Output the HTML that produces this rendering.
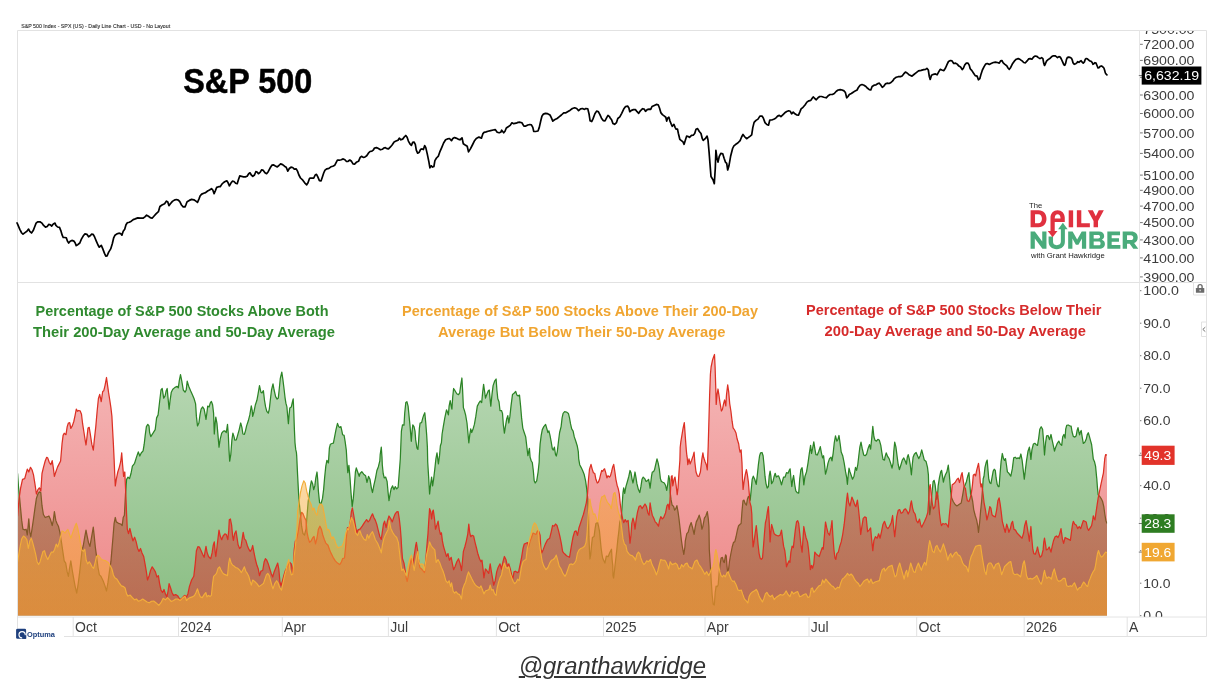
<!DOCTYPE html>
<html><head><meta charset="utf-8"><title>S&amp;P 500 breadth</title>
<style>html,body{margin:0;padding:0;background:#fff;}body{width:1228px;height:690px;overflow:hidden;position:relative;font-family:"Liberation Sans",sans-serif;}svg{display:block;will-change:transform;}text{font-family:"Liberation Sans",sans-serif;}</style>
</head><body>
<svg width="1228" height="690" viewBox="0 0 1228 690">
<defs>
<linearGradient id="gg" gradientUnits="userSpaceOnUse" x1="0" y1="283" x2="0" y2="616"><stop offset="0" stop-color="#2e8b22" stop-opacity="0.27"/><stop offset="1" stop-color="#2e8b22" stop-opacity="0.56"/></linearGradient>
<linearGradient id="gr" gradientUnits="userSpaceOnUse" x1="0" y1="283" x2="0" y2="616"><stop offset="0" stop-color="#e02a2a" stop-opacity="0.27"/><stop offset="1" stop-color="#e02a2a" stop-opacity="0.56"/></linearGradient>
<linearGradient id="go" gradientUnits="userSpaceOnUse" x1="0" y1="283" x2="0" y2="616"><stop offset="0" stop-color="#f5a72e" stop-opacity="0.27"/><stop offset="1" stop-color="#f5a72e" stop-opacity="0.56"/></linearGradient>
<clipPath id="cpTop"><rect x="1140" y="31" width="67" height="251.5"/></clipPath>
<clipPath id="cpLow"><rect x="1140" y="283" width="67" height="333.8"/></clipPath>
<clipPath id="cpPlot"><rect x="17" y="283" width="1090.2" height="332.7"/></clipPath>
</defs>
<rect width="1228" height="690" fill="#fff"/>
<text x="21.2" y="27.8" font-size="5.6" fill="#2e2e2e" stroke="#2e2e2e" stroke-width="0.12" textLength="149" lengthAdjust="spacingAndGlyphs">S&amp;P 500 Index - SPX (US) - Daily Line Chart - USD - No Layout</text>
<g clip-path="url(#cpPlot)">
<path d="M17.0,473.5 L17.6,473.5 L18.5,486.7 L19.5,496.9 L20.6,508.6 L21.7,520.4 L22.9,529.2 L24.7,529.9 L26.1,529.2 L27.3,535.0 L28.8,518.9 L29.8,532.1 L30.8,536.5 L32.0,529.2 L33.5,518.9 L34.9,508.6 L36.4,498.4 L37.9,494.0 L39.3,491.8 L40.8,492.5 L42.0,505.7 L43.4,514.5 L45.2,517.5 L47.4,516.7 L48.9,516.0 L50.3,518.9 L52.2,525.5 L53.3,520.4 L54.4,511.6 L55.8,520.4 L56.9,523.3 L58.4,526.2 L59.9,532.3 L61.3,541.1 L62.8,551.4 L64.2,560.9 L65.7,563.1 L67.2,571.9 L68.4,576.3 L69.4,569.0 L70.8,560.9 L72.3,570.5 L73.8,579.2 L75.2,586.6 L76.7,593.2 L78.2,583.6 L79.7,571.9 L81.1,558.7 L82.1,549.9 L83.3,545.5 L84.8,536.7 L86.0,530.1 L87.0,535.3 L88.5,542.6 L89.9,546.3 L91.4,538.2 L93.3,527.2 L94.3,536.7 L95.3,547.0 L96.5,555.8 L98.0,567.5 L99.4,574.9 L100.9,576.3 L103.1,580.7 L105.0,585.9 L106.5,591.0 L108.0,582.2 L109.4,571.9 L110.9,561.7 L111.9,549.9 L112.9,538.2 L114.1,523.3 L115.3,517.5 L116.3,521.9 L118.5,523.3 L120.7,524.0 L122.2,525.5 L123.2,517.5 L124.4,515.2 L125.5,494.0 L126.6,479.3 L128.0,477.1 L129.5,478.6 L131.0,473.5 L132.4,466.1 L134.6,463.3 L136.4,457.4 L138.3,451.9 L139.8,456.0 L141.2,453.0 L143.1,450.8 L144.2,444.2 L145.2,435.4 L146.4,426.6 L147.8,424.4 L149.0,425.9 L149.6,432.5 L150.8,436.6 L153.0,433.2 L155.2,429.6 L156.6,417.9 L158.1,414.9 L159.6,401.7 L161.0,390.0 L162.2,388.5 L163.7,398.1 L165.1,395.9 L166.2,390.7 L167.2,388.5 L168.1,398.8 L169.1,409.1 L170.1,400.3 L171.3,392.2 L172.8,389.3 L175.0,387.4 L177.2,386.3 L178.3,387.8 L179.3,380.5 L180.5,374.6 L181.8,381.2 L183.3,390.0 L185.0,392.2 L186.2,390.0 L187.2,381.2 L188.7,386.3 L190.6,390.7 L192.3,394.4 L194.1,398.8 L195.6,403.9 L196.4,416.4 L197.5,425.9 L198.9,423.0 L200.0,414.9 L201.1,409.1 L202.6,406.9 L204.1,409.1 L205.2,414.9 L206.0,419.3 L207.0,412.0 L207.7,406.1 L209.2,406.9 L210.2,403.2 L211.4,401.4 L212.6,404.7 L213.6,413.4 L214.3,434.0 L215.1,423.7 L215.8,417.1 L217.0,423.7 L218.0,435.4 L219.0,447.2 L220.2,439.1 L221.7,433.2 L223.4,431.1 L224.9,430.8 L226.3,432.5 L227.5,424.4 L228.3,434.0 L229.0,450.1 L229.7,461.1 L230.8,454.5 L231.9,439.9 L232.9,433.2 L234.1,436.9 L234.8,440.1 L236.3,439.9 L237.8,434.7 L239.2,429.6 L240.7,423.0 L241.9,427.4 L242.9,434.0 L244.4,434.3 L245.4,431.1 L246.6,425.9 L248.3,420.8 L249.8,414.9 L251.3,405.8 L252.2,410.5 L252.7,416.4 L253.9,412.0 L255.4,404.7 L256.9,400.3 L258.0,394.4 L259.5,385.6 L260.9,392.2 L262.0,392.9 L263.4,390.7 L264.5,400.3 L265.6,406.9 L266.8,411.3 L268.3,413.2 L269.3,409.1 L270.3,400.3 L271.5,390.0 L273.0,383.8 L274.1,390.0 L275.6,396.6 L277.1,399.1 L278.3,398.1 L279.3,388.5 L280.3,378.3 L281.8,372.1 L282.9,379.7 L284.0,388.5 L285.0,397.3 L285.9,403.2 L286.9,406.9 L287.6,414.9 L288.4,423.7 L289.1,414.9 L289.8,407.9 L291.3,406.9 L292.3,402.5 L293.2,398.8 L293.8,412.0 L294.4,429.6 L295.0,442.8 L295.7,449.4 L296.4,452.3 L296.7,455.9 L297.6,474.9 L298.6,494.0 L299.4,504.2 L300.5,514.5 L301.6,526.2 L303.0,533.6 L304.5,535.0 L306.0,529.2 L307.0,516.0 L308.2,501.3 L309.3,494.0 L310.4,485.9 L311.4,480.8 L312.6,483.7 L313.7,489.6 L314.8,485.9 L315.8,477.9 L317.0,472.0 L317.7,479.3 L318.4,491.1 L319.6,502.8 L321.1,503.5 L322.5,498.4 L323.6,489.6 L324.6,477.9 L325.8,466.1 L326.9,460.3 L328.4,462.9 L329.4,447.9 L330.4,444.2 L331.9,443.5 L333.4,443.1 L334.6,436.9 L336.0,429.6 L337.5,423.4 L338.7,426.6 L339.7,427.4 L340.9,426.6 L341.9,431.1 L342.6,434.7 L344.1,435.4 L345.1,441.3 L346.3,450.1 L347.0,461.7 L347.8,472.7 L348.9,465.4 L350.0,477.9 L351.0,492.5 L352.2,506.4 L353.3,498.4 L354.4,485.2 L355.4,472.0 L356.3,467.9 L357.7,472.0 L359.2,476.4 L360.0,473.5 L361.8,471.7 L363.7,474.2 L365.6,475.7 L367.0,482.3 L368.5,476.4 L370.0,479.3 L371.4,488.1 L372.5,492.5 L373.9,485.2 L375.4,478.6 L376.9,470.5 L378.3,466.9 L379.8,461.0 L380.2,454.5 L381.3,447.2 L382.0,457.4 L382.3,464.7 L383.2,473.5 L384.2,477.9 L385.7,477.1 L387.1,481.5 L388.1,492.5 L389.0,500.6 L390.1,494.0 L391.1,488.9 L392.6,485.9 L394.0,489.6 L395.2,486.7 L396.7,488.9 L398.1,487.4 L399.3,472.0 L400.3,458.8 L401.4,431.1 L402.5,424.9 L404.0,425.2 L404.7,413.4 L405.8,402.5 L406.9,401.7 L408.1,406.1 L409.1,416.4 L410.1,426.6 L411.3,441.3 L412.1,431.1 L412.8,424.9 L414.0,426.6 L415.0,431.1 L415.7,439.9 L416.9,447.9 L417.9,449.4 L418.6,441.3 L419.4,428.1 L420.1,423.0 L421.6,422.6 L422.8,417.9 L423.8,414.9 L424.8,412.7 L425.7,422.2 L426.7,435.4 L427.4,447.2 L427.7,461.7 L428.6,476.4 L429.6,494.0 L430.7,483.7 L431.6,477.1 L432.6,485.9 L433.6,479.3 L434.8,469.1 L435.9,458.8 L437.0,452.9 L438.4,463.9 L439.5,455.9 L440.4,445.7 L441.4,442.8 L442.1,434.0 L443.3,426.6 L444.8,417.9 L446.5,409.8 L447.7,412.7 L448.4,414.9 L449.1,406.1 L450.2,400.6 L451.2,406.1 L451.9,409.1 L452.7,397.3 L453.6,388.5 L455.0,390.7 L456.8,393.7 L458.5,394.7 L459.7,392.9 L460.9,384.1 L461.9,378.0 L462.6,390.0 L463.4,407.6 L464.4,410.5 L465.6,414.9 L467.0,423.0 L467.9,432.5 L468.8,442.8 L469.7,435.4 L470.7,428.9 L471.7,432.5 L472.9,429.6 L474.4,424.4 L475.8,416.4 L477.3,406.1 L478.8,403.2 L480.2,401.0 L481.7,402.5 L482.6,392.9 L483.6,384.4 L484.6,391.5 L485.5,398.1 L486.8,394.4 L488.3,390.7 L489.3,390.0 L490.2,400.3 L490.8,406.1 L492.0,394.4 L493.1,385.6 L494.6,381.2 L496.1,379.0 L496.9,390.0 L497.8,398.8 L499.0,401.7 L500.0,410.5 L501.5,410.5 L502.5,413.4 L503.4,425.2 L504.4,433.2 L505.4,426.6 L506.6,419.3 L507.8,415.6 L508.8,423.0 L509.9,416.4 L511.0,406.1 L512.5,394.4 L514.0,393.2 L515.7,391.5 L516.9,395.1 L518.1,395.9 L519.5,395.1 L520.6,406.1 L521.6,417.9 L522.8,428.1 L524.2,432.5 L525.7,436.9 L526.9,447.2 L527.9,455.7 L529.4,448.4 L530.1,457.3 L531.3,461.0 L532.3,462.5 L533.3,470.5 L534.2,480.8 L535.2,483.0 L536.7,480.8 L538.1,472.0 L539.2,461.7 L539.3,456.0 L540.1,444.2 L541.2,435.4 L542.3,429.6 L543.8,426.6 L545.6,424.4 L546.7,428.1 L547.9,432.5 L548.9,430.8 L550.0,435.4 L551.1,441.3 L552.3,448.6 L553.3,450.1 L554.4,447.2 L555.5,454.5 L556.3,456.0 L557.3,451.6 L558.5,441.3 L559.6,432.5 L561.1,426.6 L562.1,417.9 L563.1,413.4 L564.6,411.7 L566.5,412.0 L568.4,413.4 L569.5,417.9 L570.5,423.7 L571.7,428.9 L573.1,431.1 L574.3,436.9 L575.8,441.3 L577.2,445.7 L578.3,451.6 L578.7,458.8 L579.7,464.7 L581.2,467.6 L582.6,470.5 L584.1,474.2 L585.6,480.8 L586.6,488.1 L587.2,493.5 L588.0,501.6 L588.5,513.2 L588.7,524.8 L588.9,536.4 L589.4,548.0 L589.9,559.0 L590.7,555.0 L591.5,545.7 L592.4,537.6 L594.1,536.4 L595.0,529.4 L595.9,523.6 L597.6,522.5 L598.5,526.0 L599.4,530.6 L600.3,539.9 L601.1,548.0 L601.9,553.8 L602.8,558.5 L604.9,563.1 L606.3,556.1 L608.1,556.7 L609.8,552.6 L611.5,549.2 L612.1,559.6 L612.8,565.4 L613.0,575.6 L613.6,578.1 L614.5,570.5 L615.6,560.2 L616.8,549.9 L617.8,539.7 L618.9,530.9 L619.8,521.9 L620.8,518.9 L621.5,514.5 L622.2,504.2 L623.0,492.5 L623.7,487.8 L624.7,493.3 L625.9,486.7 L627.4,481.5 L628.8,476.4 L630.0,470.5 L631.0,472.7 L632.1,479.3 L633.0,483.0 L634.0,477.9 L635.0,472.0 L635.9,477.1 L636.9,483.7 L638.4,489.6 L639.8,492.5 L640.9,486.7 L642.0,479.3 L643.2,477.1 L644.7,478.6 L646.1,481.5 L647.6,480.5 L648.6,479.3 L649.4,483.7 L650.1,488.1 L650.8,482.3 L651.6,475.7 L652.3,472.0 L653.5,471.7 L654.5,469.8 L655.5,465.4 L657.0,458.8 L658.2,463.2 L659.3,469.1 L660.4,478.6 L661.4,481.5 L662.9,482.3 L664.3,483.0 L665.5,485.2 L666.7,490.3 L667.7,484.5 L668.7,475.7 L669.6,479.3 L670.2,492.5 L671.1,499.9 L672.1,505.0 L673.6,506.4 L674.6,510.1 L675.8,508.6 L676.9,505.7 L678.0,511.6 L679.0,518.9 L680.2,529.2 L681.3,539.4 L682.4,547.0 L683.8,554.3 L684.9,547.0 L685.3,540.9 L686.8,533.6 L688.2,532.1 L689.7,526.2 L691.2,522.6 L692.6,527.7 L694.1,534.3 L695.1,527.7 L696.3,521.9 L697.8,518.9 L699.2,515.2 L700.7,520.4 L701.9,529.2 L702.9,526.2 L704.4,518.2 L705.8,516.0 L707.3,511.6 L708.3,518.9 L708.9,526.2 L709.0,530.0 L709.3,549.6 L710.4,566.5 L711.3,582.1 L712.2,595.2 L713.2,604.3 L714.3,605.0 L715.2,592.6 L716.1,586.1 L717.2,586.7 L718.2,584.8 L719.1,573.0 L720.0,565.2 L721.1,558.0 L722.4,557.4 L723.4,561.3 L724.3,562.6 L725.6,554.8 L726.3,556.1 L726.9,565.2 L727.6,571.7 L728.6,569.1 L729.5,561.3 L730.9,553.5 L732.2,547.0 L733.5,542.4 L734.8,541.7 L736.1,536.5 L737.4,530.0 L738.6,525.7 L740.1,524.2 L741.1,523.5 L742.0,511.1 L743.0,500.8 L744.0,500.1 L745.2,503.7 L746.4,505.2 L747.4,499.3 L748.4,496.4 L749.3,497.9 L750.2,500.1 L751.1,490.9 L752.2,479.2 L753.3,476.2 L754.7,479.2 L756.2,484.3 L757.2,476.2 L758.4,464.5 L759.6,455.7 L760.6,452.8 L762.0,452.5 L763.1,455.7 L764.0,464.5 L765.0,476.2 L766.0,483.6 L767.2,488.0 L768.4,486.5 L769.2,476.2 L770.1,471.1 L770.9,476.2 L771.6,483.6 L773.0,481.4 L774.2,476.2 L775.2,473.3 L776.3,477.0 L777.5,476.2 L778.6,475.9 L780.1,479.9 L781.5,484.8 L782.6,480.6 L783.6,477.0 L785.1,477.0 L786.5,472.6 L788.0,473.3 L789.2,470.4 L790.1,468.9 L790.9,477.7 L791.8,486.5 L792.8,479.2 L793.6,475.5 L794.8,485.0 L795.8,490.9 L797.2,492.7 L798.7,493.1 L799.7,479.2 L800.9,469.6 L802.1,467.7 L803.1,476.2 L803.8,484.8 L805.0,476.2 L806.5,471.9 L808.0,463.1 L809.4,452.8 L810.6,445.4 L811.5,453.5 L812.6,448.4 L813.8,441.8 L814.8,448.4 L815.9,454.6 L817.3,455.0 L818.8,451.3 L820.3,446.6 L821.4,452.8 L822.6,457.9 L823.6,455.7 L824.4,463.1 L825.5,474.1 L826.6,470.4 L828.0,463.1 L829.5,458.6 L831.0,457.2 L832.0,460.9 L833.2,452.8 L834.3,442.5 L835.5,435.9 L836.8,441.1 L837.9,439.6 L839.0,435.5 L840.2,444.0 L841.2,452.1 L842.7,455.7 L844.2,463.1 L845.6,471.9 L846.7,477.7 L847.4,484.3 L848.1,476.2 L849.0,468.2 L850.0,471.9 L851.5,476.2 L852.5,479.2 L854.0,476.2 L855.5,467.4 L856.6,470.4 L857.8,464.5 L858.8,455.7 L859.9,446.9 L861.0,442.2 L862.2,448.4 L863.7,455.0 L865.1,455.7 L866.6,454.2 L868.1,448.4 L869.5,444.7 L870.6,449.1 L871.6,439.6 L872.8,426.4 L873.9,436.7 L875.0,440.3 L876.4,441.1 L877.9,439.3 L879.4,440.3 L880.8,445.4 L881.9,452.8 L883.0,459.4 L884.5,460.1 L885.0,457.2 L886.2,452.8 L887.6,456.4 L889.1,458.6 L890.6,463.1 L892.0,468.2 L893.1,463.1 L893.8,451.3 L894.7,442.2 L895.9,446.9 L897.0,455.7 L898.2,464.5 L899.4,469.6 L900.8,465.2 L902.3,460.1 L903.8,457.9 L905.2,460.9 L906.4,464.2 L907.3,457.2 L908.2,454.6 L909.2,458.6 L910.2,464.5 L911.4,474.8 L912.3,464.5 L913.1,457.2 L914.3,454.2 L916.1,452.5 L917.5,455.7 L918.7,458.6 L920.2,455.7 L921.7,449.9 L922.8,454.2 L924.3,460.1 L926.1,461.6 L927.5,467.4 L928.4,474.8 L928.7,487.6 L929.0,499.3 L929.7,514.7 L930.8,506.7 L931.9,493.5 L933.1,481.7 L934.1,480.3 L935.1,484.7 L936.0,492.0 L936.8,499.3 L937.5,496.8 L938.1,486.1 L939.5,477.3 L940.7,471.9 L941.6,470.4 L942.5,476.2 L943.4,482.1 L944.4,477.7 L945.4,474.8 L946.9,471.9 L948.3,465.2 L949.2,473.3 L950.0,482.5 L950.7,492.0 L951.7,497.9 L953.2,501.5 L955.1,504.5 L956.9,505.9 L959.0,504.5 L961.2,503.0 L962.7,494.9 L963.9,487.6 L964.9,485.4 L966.4,481.7 L967.8,475.9 L968.9,472.6 L969.8,483.2 L970.6,494.2 L971.5,495.7 L972.7,501.5 L973.7,509.6 L975.2,515.5 L976.6,519.9 L977.7,525.7 L978.5,532.3 L979.6,522.8 L980.6,511.1 L981.8,499.3 L982.5,489.1 L983.2,478.8 L984.0,476.2 L985.0,467.4 L986.2,462.3 L987.2,460.1 L987.9,468.9 L988.8,479.2 L989.8,482.8 L990.9,483.6 L992.0,477.7 L993.2,471.1 L994.2,469.2 L995.3,470.4 L996.1,477.7 L997.2,484.3 L998.2,486.5 L999.1,486.5 L1000.1,473.3 L1001.1,461.6 L1002.3,453.5 L1003.5,458.6 L1004.5,460.4 L1005.5,458.6 L1006.4,464.5 L1007.4,471.9 L1008.9,473.3 L1010.8,476.2 L1012.3,468.9 L1013.7,457.9 L1015.2,457.2 L1016.7,458.6 L1018.1,457.9 L1019.6,458.6 L1020.9,454.0 L1022.1,460.1 L1023.1,468.9 L1024.3,479.2 L1025.5,468.9 L1026.6,460.1 L1028.0,451.3 L1029.4,447.2 L1030.2,452.8 L1030.9,459.4 L1031.9,449.9 L1033.4,444.0 L1034.8,443.3 L1036.3,444.7 L1037.5,445.4 L1038.7,438.1 L1039.8,429.3 L1041.2,426.7 L1042.6,429.3 L1043.7,442.5 L1044.5,455.0 L1045.6,442.5 L1046.6,435.9 L1048.0,435.5 L1049.5,439.6 L1051.0,434.5 L1052.2,440.3 L1053.3,445.4 L1054.5,451.0 L1055.8,446.9 L1057.3,443.3 L1058.8,441.1 L1060.2,444.0 L1061.7,445.4 L1062.7,436.7 L1063.9,434.5 L1065.1,438.1 L1065.7,429.1 L1066.7,425.4 L1068.2,425.0 L1069.7,425.8 L1071.1,426.1 L1072.1,432.0 L1073.3,436.4 L1074.8,437.1 L1076.2,435.7 L1077.1,430.5 L1078.0,427.6 L1078.9,432.0 L1079.6,434.9 L1080.3,432.0 L1081.2,430.5 L1082.1,436.4 L1083.3,443.4 L1084.8,442.3 L1086.2,439.3 L1087.2,434.9 L1088.3,432.7 L1089.4,436.4 L1090.6,440.8 L1091.6,444.5 L1092.4,451.1 L1093.3,459.1 L1094.6,462.1 L1095.6,466.4 L1096.5,476.0 L1096.8,478.8 L1097.5,488.3 L1098.2,494.9 L1099.7,496.4 L1101.2,498.6 L1102.6,501.5 L1103.8,506.7 L1104.8,514.0 L1105.9,520.6 L1107.0,523.5 L1107.0,615.7 L17.0,615.7 Z" fill="url(#gg)"/>
<path d="M17.0,473.5 L17.6,473.5 L18.5,486.7 L19.5,496.9 L20.6,508.6 L21.7,520.4 L22.9,529.2 L24.7,529.9 L26.1,529.2 L27.3,535.0 L28.8,518.9 L29.8,532.1 L30.8,536.5 L32.0,529.2 L33.5,518.9 L34.9,508.6 L36.4,498.4 L37.9,494.0 L39.3,491.8 L40.8,492.5 L42.0,505.7 L43.4,514.5 L45.2,517.5 L47.4,516.7 L48.9,516.0 L50.3,518.9 L52.2,525.5 L53.3,520.4 L54.4,511.6 L55.8,520.4 L56.9,523.3 L58.4,526.2 L59.9,532.3 L61.3,541.1 L62.8,551.4 L64.2,560.9 L65.7,563.1 L67.2,571.9 L68.4,576.3 L69.4,569.0 L70.8,560.9 L72.3,570.5 L73.8,579.2 L75.2,586.6 L76.7,593.2 L78.2,583.6 L79.7,571.9 L81.1,558.7 L82.1,549.9 L83.3,545.5 L84.8,536.7 L86.0,530.1 L87.0,535.3 L88.5,542.6 L89.9,546.3 L91.4,538.2 L93.3,527.2 L94.3,536.7 L95.3,547.0 L96.5,555.8 L98.0,567.5 L99.4,574.9 L100.9,576.3 L103.1,580.7 L105.0,585.9 L106.5,591.0 L108.0,582.2 L109.4,571.9 L110.9,561.7 L111.9,549.9 L112.9,538.2 L114.1,523.3 L115.3,517.5 L116.3,521.9 L118.5,523.3 L120.7,524.0 L122.2,525.5 L123.2,517.5 L124.4,515.2 L125.5,494.0 L126.6,479.3 L128.0,477.1 L129.5,478.6 L131.0,473.5 L132.4,466.1 L134.6,463.3 L136.4,457.4 L138.3,451.9 L139.8,456.0 L141.2,453.0 L143.1,450.8 L144.2,444.2 L145.2,435.4 L146.4,426.6 L147.8,424.4 L149.0,425.9 L149.6,432.5 L150.8,436.6 L153.0,433.2 L155.2,429.6 L156.6,417.9 L158.1,414.9 L159.6,401.7 L161.0,390.0 L162.2,388.5 L163.7,398.1 L165.1,395.9 L166.2,390.7 L167.2,388.5 L168.1,398.8 L169.1,409.1 L170.1,400.3 L171.3,392.2 L172.8,389.3 L175.0,387.4 L177.2,386.3 L178.3,387.8 L179.3,380.5 L180.5,374.6 L181.8,381.2 L183.3,390.0 L185.0,392.2 L186.2,390.0 L187.2,381.2 L188.7,386.3 L190.6,390.7 L192.3,394.4 L194.1,398.8 L195.6,403.9 L196.4,416.4 L197.5,425.9 L198.9,423.0 L200.0,414.9 L201.1,409.1 L202.6,406.9 L204.1,409.1 L205.2,414.9 L206.0,419.3 L207.0,412.0 L207.7,406.1 L209.2,406.9 L210.2,403.2 L211.4,401.4 L212.6,404.7 L213.6,413.4 L214.3,434.0 L215.1,423.7 L215.8,417.1 L217.0,423.7 L218.0,435.4 L219.0,447.2 L220.2,439.1 L221.7,433.2 L223.4,431.1 L224.9,430.8 L226.3,432.5 L227.5,424.4 L228.3,434.0 L229.0,450.1 L229.7,461.1 L230.8,454.5 L231.9,439.9 L232.9,433.2 L234.1,436.9 L234.8,440.1 L236.3,439.9 L237.8,434.7 L239.2,429.6 L240.7,423.0 L241.9,427.4 L242.9,434.0 L244.4,434.3 L245.4,431.1 L246.6,425.9 L248.3,420.8 L249.8,414.9 L251.3,405.8 L252.2,410.5 L252.7,416.4 L253.9,412.0 L255.4,404.7 L256.9,400.3 L258.0,394.4 L259.5,385.6 L260.9,392.2 L262.0,392.9 L263.4,390.7 L264.5,400.3 L265.6,406.9 L266.8,411.3 L268.3,413.2 L269.3,409.1 L270.3,400.3 L271.5,390.0 L273.0,383.8 L274.1,390.0 L275.6,396.6 L277.1,399.1 L278.3,398.1 L279.3,388.5 L280.3,378.3 L281.8,372.1 L282.9,379.7 L284.0,388.5 L285.0,397.3 L285.9,403.2 L286.9,406.9 L287.6,414.9 L288.4,423.7 L289.1,414.9 L289.8,407.9 L291.3,406.9 L292.3,402.5 L293.2,398.8 L293.8,412.0 L294.4,429.6 L295.0,442.8 L295.7,449.4 L296.4,452.3 L296.7,455.9 L297.6,474.9 L298.6,494.0 L299.4,504.2 L300.5,514.5 L301.6,526.2 L303.0,533.6 L304.5,535.0 L306.0,529.2 L307.0,516.0 L308.2,501.3 L309.3,494.0 L310.4,485.9 L311.4,480.8 L312.6,483.7 L313.7,489.6 L314.8,485.9 L315.8,477.9 L317.0,472.0 L317.7,479.3 L318.4,491.1 L319.6,502.8 L321.1,503.5 L322.5,498.4 L323.6,489.6 L324.6,477.9 L325.8,466.1 L326.9,460.3 L328.4,462.9 L329.4,447.9 L330.4,444.2 L331.9,443.5 L333.4,443.1 L334.6,436.9 L336.0,429.6 L337.5,423.4 L338.7,426.6 L339.7,427.4 L340.9,426.6 L341.9,431.1 L342.6,434.7 L344.1,435.4 L345.1,441.3 L346.3,450.1 L347.0,461.7 L347.8,472.7 L348.9,465.4 L350.0,477.9 L351.0,492.5 L352.2,506.4 L353.3,498.4 L354.4,485.2 L355.4,472.0 L356.3,467.9 L357.7,472.0 L359.2,476.4 L360.0,473.5 L361.8,471.7 L363.7,474.2 L365.6,475.7 L367.0,482.3 L368.5,476.4 L370.0,479.3 L371.4,488.1 L372.5,492.5 L373.9,485.2 L375.4,478.6 L376.9,470.5 L378.3,466.9 L379.8,461.0 L380.2,454.5 L381.3,447.2 L382.0,457.4 L382.3,464.7 L383.2,473.5 L384.2,477.9 L385.7,477.1 L387.1,481.5 L388.1,492.5 L389.0,500.6 L390.1,494.0 L391.1,488.9 L392.6,485.9 L394.0,489.6 L395.2,486.7 L396.7,488.9 L398.1,487.4 L399.3,472.0 L400.3,458.8 L401.4,431.1 L402.5,424.9 L404.0,425.2 L404.7,413.4 L405.8,402.5 L406.9,401.7 L408.1,406.1 L409.1,416.4 L410.1,426.6 L411.3,441.3 L412.1,431.1 L412.8,424.9 L414.0,426.6 L415.0,431.1 L415.7,439.9 L416.9,447.9 L417.9,449.4 L418.6,441.3 L419.4,428.1 L420.1,423.0 L421.6,422.6 L422.8,417.9 L423.8,414.9 L424.8,412.7 L425.7,422.2 L426.7,435.4 L427.4,447.2 L427.7,461.7 L428.6,476.4 L429.6,494.0 L430.7,483.7 L431.6,477.1 L432.6,485.9 L433.6,479.3 L434.8,469.1 L435.9,458.8 L437.0,452.9 L438.4,463.9 L439.5,455.9 L440.4,445.7 L441.4,442.8 L442.1,434.0 L443.3,426.6 L444.8,417.9 L446.5,409.8 L447.7,412.7 L448.4,414.9 L449.1,406.1 L450.2,400.6 L451.2,406.1 L451.9,409.1 L452.7,397.3 L453.6,388.5 L455.0,390.7 L456.8,393.7 L458.5,394.7 L459.7,392.9 L460.9,384.1 L461.9,378.0 L462.6,390.0 L463.4,407.6 L464.4,410.5 L465.6,414.9 L467.0,423.0 L467.9,432.5 L468.8,442.8 L469.7,435.4 L470.7,428.9 L471.7,432.5 L472.9,429.6 L474.4,424.4 L475.8,416.4 L477.3,406.1 L478.8,403.2 L480.2,401.0 L481.7,402.5 L482.6,392.9 L483.6,384.4 L484.6,391.5 L485.5,398.1 L486.8,394.4 L488.3,390.7 L489.3,390.0 L490.2,400.3 L490.8,406.1 L492.0,394.4 L493.1,385.6 L494.6,381.2 L496.1,379.0 L496.9,390.0 L497.8,398.8 L499.0,401.7 L500.0,410.5 L501.5,410.5 L502.5,413.4 L503.4,425.2 L504.4,433.2 L505.4,426.6 L506.6,419.3 L507.8,415.6 L508.8,423.0 L509.9,416.4 L511.0,406.1 L512.5,394.4 L514.0,393.2 L515.7,391.5 L516.9,395.1 L518.1,395.9 L519.5,395.1 L520.6,406.1 L521.6,417.9 L522.8,428.1 L524.2,432.5 L525.7,436.9 L526.9,447.2 L527.9,455.7 L529.4,448.4 L530.1,457.3 L531.3,461.0 L532.3,462.5 L533.3,470.5 L534.2,480.8 L535.2,483.0 L536.7,480.8 L538.1,472.0 L539.2,461.7 L539.3,456.0 L540.1,444.2 L541.2,435.4 L542.3,429.6 L543.8,426.6 L545.6,424.4 L546.7,428.1 L547.9,432.5 L548.9,430.8 L550.0,435.4 L551.1,441.3 L552.3,448.6 L553.3,450.1 L554.4,447.2 L555.5,454.5 L556.3,456.0 L557.3,451.6 L558.5,441.3 L559.6,432.5 L561.1,426.6 L562.1,417.9 L563.1,413.4 L564.6,411.7 L566.5,412.0 L568.4,413.4 L569.5,417.9 L570.5,423.7 L571.7,428.9 L573.1,431.1 L574.3,436.9 L575.8,441.3 L577.2,445.7 L578.3,451.6 L578.7,458.8 L579.7,464.7 L581.2,467.6 L582.6,470.5 L584.1,474.2 L585.6,480.8 L586.6,488.1 L587.2,493.5 L588.0,501.6 L588.5,513.2 L588.7,524.8 L588.9,536.4 L589.4,548.0 L589.9,559.0 L590.7,555.0 L591.5,545.7 L592.4,537.6 L594.1,536.4 L595.0,529.4 L595.9,523.6 L597.6,522.5 L598.5,526.0 L599.4,530.6 L600.3,539.9 L601.1,548.0 L601.9,553.8 L602.8,558.5 L604.9,563.1 L606.3,556.1 L608.1,556.7 L609.8,552.6 L611.5,549.2 L612.1,559.6 L612.8,565.4 L613.0,575.6 L613.6,578.1 L614.5,570.5 L615.6,560.2 L616.8,549.9 L617.8,539.7 L618.9,530.9 L619.8,521.9 L620.8,518.9 L621.5,514.5 L622.2,504.2 L623.0,492.5 L623.7,487.8 L624.7,493.3 L625.9,486.7 L627.4,481.5 L628.8,476.4 L630.0,470.5 L631.0,472.7 L632.1,479.3 L633.0,483.0 L634.0,477.9 L635.0,472.0 L635.9,477.1 L636.9,483.7 L638.4,489.6 L639.8,492.5 L640.9,486.7 L642.0,479.3 L643.2,477.1 L644.7,478.6 L646.1,481.5 L647.6,480.5 L648.6,479.3 L649.4,483.7 L650.1,488.1 L650.8,482.3 L651.6,475.7 L652.3,472.0 L653.5,471.7 L654.5,469.8 L655.5,465.4 L657.0,458.8 L658.2,463.2 L659.3,469.1 L660.4,478.6 L661.4,481.5 L662.9,482.3 L664.3,483.0 L665.5,485.2 L666.7,490.3 L667.7,484.5 L668.7,475.7 L669.6,479.3 L670.2,492.5 L671.1,499.9 L672.1,505.0 L673.6,506.4 L674.6,510.1 L675.8,508.6 L676.9,505.7 L678.0,511.6 L679.0,518.9 L680.2,529.2 L681.3,539.4 L682.4,547.0 L683.8,554.3 L684.9,547.0 L685.3,540.9 L686.8,533.6 L688.2,532.1 L689.7,526.2 L691.2,522.6 L692.6,527.7 L694.1,534.3 L695.1,527.7 L696.3,521.9 L697.8,518.9 L699.2,515.2 L700.7,520.4 L701.9,529.2 L702.9,526.2 L704.4,518.2 L705.8,516.0 L707.3,511.6 L708.3,518.9 L708.9,526.2 L709.0,530.0 L709.3,549.6 L710.4,566.5 L711.3,582.1 L712.2,595.2 L713.2,604.3 L714.3,605.0 L715.2,592.6 L716.1,586.1 L717.2,586.7 L718.2,584.8 L719.1,573.0 L720.0,565.2 L721.1,558.0 L722.4,557.4 L723.4,561.3 L724.3,562.6 L725.6,554.8 L726.3,556.1 L726.9,565.2 L727.6,571.7 L728.6,569.1 L729.5,561.3 L730.9,553.5 L732.2,547.0 L733.5,542.4 L734.8,541.7 L736.1,536.5 L737.4,530.0 L738.6,525.7 L740.1,524.2 L741.1,523.5 L742.0,511.1 L743.0,500.8 L744.0,500.1 L745.2,503.7 L746.4,505.2 L747.4,499.3 L748.4,496.4 L749.3,497.9 L750.2,500.1 L751.1,490.9 L752.2,479.2 L753.3,476.2 L754.7,479.2 L756.2,484.3 L757.2,476.2 L758.4,464.5 L759.6,455.7 L760.6,452.8 L762.0,452.5 L763.1,455.7 L764.0,464.5 L765.0,476.2 L766.0,483.6 L767.2,488.0 L768.4,486.5 L769.2,476.2 L770.1,471.1 L770.9,476.2 L771.6,483.6 L773.0,481.4 L774.2,476.2 L775.2,473.3 L776.3,477.0 L777.5,476.2 L778.6,475.9 L780.1,479.9 L781.5,484.8 L782.6,480.6 L783.6,477.0 L785.1,477.0 L786.5,472.6 L788.0,473.3 L789.2,470.4 L790.1,468.9 L790.9,477.7 L791.8,486.5 L792.8,479.2 L793.6,475.5 L794.8,485.0 L795.8,490.9 L797.2,492.7 L798.7,493.1 L799.7,479.2 L800.9,469.6 L802.1,467.7 L803.1,476.2 L803.8,484.8 L805.0,476.2 L806.5,471.9 L808.0,463.1 L809.4,452.8 L810.6,445.4 L811.5,453.5 L812.6,448.4 L813.8,441.8 L814.8,448.4 L815.9,454.6 L817.3,455.0 L818.8,451.3 L820.3,446.6 L821.4,452.8 L822.6,457.9 L823.6,455.7 L824.4,463.1 L825.5,474.1 L826.6,470.4 L828.0,463.1 L829.5,458.6 L831.0,457.2 L832.0,460.9 L833.2,452.8 L834.3,442.5 L835.5,435.9 L836.8,441.1 L837.9,439.6 L839.0,435.5 L840.2,444.0 L841.2,452.1 L842.7,455.7 L844.2,463.1 L845.6,471.9 L846.7,477.7 L847.4,484.3 L848.1,476.2 L849.0,468.2 L850.0,471.9 L851.5,476.2 L852.5,479.2 L854.0,476.2 L855.5,467.4 L856.6,470.4 L857.8,464.5 L858.8,455.7 L859.9,446.9 L861.0,442.2 L862.2,448.4 L863.7,455.0 L865.1,455.7 L866.6,454.2 L868.1,448.4 L869.5,444.7 L870.6,449.1 L871.6,439.6 L872.8,426.4 L873.9,436.7 L875.0,440.3 L876.4,441.1 L877.9,439.3 L879.4,440.3 L880.8,445.4 L881.9,452.8 L883.0,459.4 L884.5,460.1 L885.0,457.2 L886.2,452.8 L887.6,456.4 L889.1,458.6 L890.6,463.1 L892.0,468.2 L893.1,463.1 L893.8,451.3 L894.7,442.2 L895.9,446.9 L897.0,455.7 L898.2,464.5 L899.4,469.6 L900.8,465.2 L902.3,460.1 L903.8,457.9 L905.2,460.9 L906.4,464.2 L907.3,457.2 L908.2,454.6 L909.2,458.6 L910.2,464.5 L911.4,474.8 L912.3,464.5 L913.1,457.2 L914.3,454.2 L916.1,452.5 L917.5,455.7 L918.7,458.6 L920.2,455.7 L921.7,449.9 L922.8,454.2 L924.3,460.1 L926.1,461.6 L927.5,467.4 L928.4,474.8 L928.7,487.6 L929.0,499.3 L929.7,514.7 L930.8,506.7 L931.9,493.5 L933.1,481.7 L934.1,480.3 L935.1,484.7 L936.0,492.0 L936.8,499.3 L937.5,496.8 L938.1,486.1 L939.5,477.3 L940.7,471.9 L941.6,470.4 L942.5,476.2 L943.4,482.1 L944.4,477.7 L945.4,474.8 L946.9,471.9 L948.3,465.2 L949.2,473.3 L950.0,482.5 L950.7,492.0 L951.7,497.9 L953.2,501.5 L955.1,504.5 L956.9,505.9 L959.0,504.5 L961.2,503.0 L962.7,494.9 L963.9,487.6 L964.9,485.4 L966.4,481.7 L967.8,475.9 L968.9,472.6 L969.8,483.2 L970.6,494.2 L971.5,495.7 L972.7,501.5 L973.7,509.6 L975.2,515.5 L976.6,519.9 L977.7,525.7 L978.5,532.3 L979.6,522.8 L980.6,511.1 L981.8,499.3 L982.5,489.1 L983.2,478.8 L984.0,476.2 L985.0,467.4 L986.2,462.3 L987.2,460.1 L987.9,468.9 L988.8,479.2 L989.8,482.8 L990.9,483.6 L992.0,477.7 L993.2,471.1 L994.2,469.2 L995.3,470.4 L996.1,477.7 L997.2,484.3 L998.2,486.5 L999.1,486.5 L1000.1,473.3 L1001.1,461.6 L1002.3,453.5 L1003.5,458.6 L1004.5,460.4 L1005.5,458.6 L1006.4,464.5 L1007.4,471.9 L1008.9,473.3 L1010.8,476.2 L1012.3,468.9 L1013.7,457.9 L1015.2,457.2 L1016.7,458.6 L1018.1,457.9 L1019.6,458.6 L1020.9,454.0 L1022.1,460.1 L1023.1,468.9 L1024.3,479.2 L1025.5,468.9 L1026.6,460.1 L1028.0,451.3 L1029.4,447.2 L1030.2,452.8 L1030.9,459.4 L1031.9,449.9 L1033.4,444.0 L1034.8,443.3 L1036.3,444.7 L1037.5,445.4 L1038.7,438.1 L1039.8,429.3 L1041.2,426.7 L1042.6,429.3 L1043.7,442.5 L1044.5,455.0 L1045.6,442.5 L1046.6,435.9 L1048.0,435.5 L1049.5,439.6 L1051.0,434.5 L1052.2,440.3 L1053.3,445.4 L1054.5,451.0 L1055.8,446.9 L1057.3,443.3 L1058.8,441.1 L1060.2,444.0 L1061.7,445.4 L1062.7,436.7 L1063.9,434.5 L1065.1,438.1 L1065.7,429.1 L1066.7,425.4 L1068.2,425.0 L1069.7,425.8 L1071.1,426.1 L1072.1,432.0 L1073.3,436.4 L1074.8,437.1 L1076.2,435.7 L1077.1,430.5 L1078.0,427.6 L1078.9,432.0 L1079.6,434.9 L1080.3,432.0 L1081.2,430.5 L1082.1,436.4 L1083.3,443.4 L1084.8,442.3 L1086.2,439.3 L1087.2,434.9 L1088.3,432.7 L1089.4,436.4 L1090.6,440.8 L1091.6,444.5 L1092.4,451.1 L1093.3,459.1 L1094.6,462.1 L1095.6,466.4 L1096.5,476.0 L1096.8,478.8 L1097.5,488.3 L1098.2,494.9 L1099.7,496.4 L1101.2,498.6 L1102.6,501.5 L1103.8,506.7 L1104.8,514.0 L1105.9,520.6 L1107.0,523.5" fill="none" stroke="#2c8426" stroke-width="1.25" stroke-linejoin="round"/>
<path d="M17.0,516.0 L17.6,516.0 L19.1,498.4 L20.6,488.1 L22.5,479.3 L24.7,478.6 L26.1,473.5 L27.3,469.1 L28.8,472.0 L30.5,467.3 L32.0,469.8 L33.5,474.9 L34.9,483.7 L36.4,494.0 L37.9,489.6 L39.3,487.8 L40.8,491.1 L42.0,473.5 L43.4,467.6 L45.2,461.0 L46.7,457.3 L47.8,458.1 L49.3,462.5 L50.8,464.7 L52.2,460.6 L53.3,467.6 L54.4,476.4 L55.8,472.0 L57.6,466.9 L60.6,461.0 L62.0,444.2 L63.1,435.4 L64.2,433.2 L66.0,434.7 L67.2,426.6 L68.4,423.0 L69.7,422.7 L70.8,428.4 L72.3,425.9 L73.8,421.5 L75.2,414.9 L76.3,409.1 L77.5,411.3 L78.6,410.5 L80.1,410.8 L81.5,414.2 L82.6,423.7 L84.0,432.5 L85.1,439.9 L86.0,445.0 L87.0,436.9 L88.0,428.1 L89.2,427.4 L90.3,434.0 L91.8,444.2 L93.3,450.1 L94.3,439.9 L95.8,426.6 L97.2,410.5 L98.4,398.8 L99.7,394.4 L101.2,401.7 L102.7,391.5 L103.8,390.7 L105.0,385.6 L106.5,377.5 L107.5,384.9 L108.5,392.2 L109.7,399.5 L110.9,407.6 L111.9,416.4 L112.6,429.6 L113.4,444.2 L114.1,458.9 L114.7,473.5 L115.3,485.9 L116.3,479.3 L117.8,472.0 L119.2,467.6 L120.7,461.7 L121.7,452.9 L122.6,464.7 L123.6,476.4 L124.8,472.0 L125.8,494.0 L126.6,514.5 L127.3,529.2 L128.5,533.6 L129.9,528.5 L131.4,535.0 L132.9,540.9 L134.6,537.2 L136.1,541.6 L137.6,548.2 L139.0,551.4 L140.5,548.5 L142.0,552.9 L143.7,556.5 L144.9,563.1 L146.4,571.9 L147.5,580.0 L149.0,576.3 L150.5,570.5 L152.2,566.8 L153.7,569.0 L155.4,571.9 L156.9,577.0 L158.4,575.6 L159.6,583.6 L161.0,590.2 L162.5,592.5 L164.0,589.5 L165.4,593.9 L166.9,596.9 L168.1,591.0 L169.1,583.6 L170.6,588.0 L172.0,592.5 L173.5,595.4 L175.7,594.6 L177.9,596.1 L180.1,599.8 L181.8,598.3 L183.8,596.1 L185.0,595.4 L186.5,596.9 L187.9,593.9 L189.4,586.6 L191.6,580.0 L193.8,576.3 L195.3,563.1 L196.4,550.7 L197.9,546.7 L199.4,547.0 L201.1,550.7 L202.6,554.3 L204.1,557.3 L205.1,551.4 L206.0,546.3 L207.0,552.1 L208.5,556.5 L210.7,558.7 L212.1,552.9 L213.2,545.5 L214.3,541.9 L215.1,551.4 L215.8,556.5 L217.0,547.0 L218.0,538.2 L219.0,530.1 L220.2,536.0 L221.7,539.7 L223.1,536.0 L224.9,533.8 L226.3,534.5 L227.8,539.7 L228.7,530.9 L229.3,519.7 L230.4,519.0 L231.6,525.0 L232.7,536.7 L233.4,540.4 L234.6,533.8 L236.0,530.9 L237.1,538.2 L238.1,544.8 L239.6,548.5 L241.0,547.0 L242.2,538.9 L243.2,532.3 L244.4,538.9 L245.8,540.4 L247.3,545.5 L248.8,549.2 L250.2,551.4 L251.7,549.2 L252.7,545.5 L253.9,552.1 L255.4,559.5 L256.9,565.3 L258.3,569.0 L259.5,575.6 L260.9,571.2 L262.7,570.5 L264.2,561.7 L265.4,558.7 L266.8,560.2 L268.3,563.9 L269.8,569.0 L271.2,573.4 L272.7,577.0 L274.1,571.9 L275.9,567.5 L277.7,563.1 L278.8,569.0 L280.0,582.2 L281.0,585.9 L282.5,580.7 L284.0,574.9 L285.4,570.5 L286.9,567.5 L288.4,564.6 L289.8,562.4 L291.3,563.9 L292.8,573.4 L293.5,564.6 L294.2,549.9 L295.3,541.1 L296.1,540.9 L297.2,536.5 L298.6,529.2 L300.1,518.9 L301.6,512.3 L303.0,513.8 L304.5,517.5 L306.0,520.4 L307.0,532.1 L308.2,538.0 L309.6,542.4 L311.1,540.9 L312.6,538.0 L314.0,536.5 L315.5,543.8 L317.0,538.0 L318.4,529.2 L319.9,526.2 L321.4,529.2 L322.8,535.0 L324.3,539.4 L325.8,543.1 L328.0,545.3 L329.4,549.2 L330.9,552.9 L333.1,557.3 L335.3,560.9 L337.5,563.1 L339.7,564.6 L341.2,562.4 L342.6,558.7 L344.5,558.0 L345.6,547.0 L346.3,538.2 L346.9,532.1 L347.5,527.7 L348.9,529.9 L350.4,520.4 L351.4,511.6 L352.4,507.9 L353.6,514.5 L354.8,521.9 L355.8,527.7 L356.9,532.8 L358.0,529.9 L359.5,529.2 L360.0,529.2 L362.2,526.2 L364.4,522.6 L366.6,519.6 L368.1,521.9 L369.5,520.4 L371.0,516.7 L372.5,513.8 L373.9,517.5 L375.4,520.4 L376.9,524.8 L378.3,530.6 L379.8,536.5 L381.3,539.4 L382.3,532.1 L383.5,524.0 L384.6,521.1 L386.1,527.7 L387.6,520.4 L389.0,516.0 L390.8,518.9 L392.3,521.9 L393.7,517.5 L395.2,513.8 L396.7,511.9 L398.1,511.6 L399.3,518.9 L400.3,527.7 L401.1,538.0 L401.6,547.0 L402.5,558.7 L404.0,563.1 L405.2,570.5 L406.2,577.8 L407.2,581.5 L408.4,574.9 L409.9,566.1 L411.3,558.7 L412.5,564.6 L413.5,560.2 L414.6,552.9 L415.7,545.5 L416.4,542.3 L417.5,549.9 L418.6,560.2 L419.8,567.5 L421.6,569.0 L423.3,571.2 L424.5,572.6 L425.7,560.2 L426.7,548.5 L427.4,539.7 L428.0,533.6 L428.6,523.3 L429.6,508.6 L430.7,511.6 L431.6,518.9 L432.6,511.6 L433.3,510.1 L434.5,518.9 L435.5,529.2 L437.0,524.8 L438.1,521.1 L439.2,529.2 L440.4,534.3 L441.4,532.8 L442.4,540.9 L443.6,546.8 L445.0,551.4 L446.5,556.5 L448.0,553.6 L449.4,560.2 L451.2,557.3 L452.4,563.9 L453.6,569.7 L455.0,566.8 L456.8,561.7 L458.5,558.7 L460.0,563.1 L461.5,570.5 L462.4,561.7 L463.4,551.4 L464.8,547.0 L466.3,541.1 L467.8,533.8 L468.8,524.1 L469.7,532.3 L470.7,536.7 L472.2,535.3 L473.6,536.0 L475.1,542.6 L476.6,548.5 L478.0,554.3 L479.5,558.7 L481.0,561.7 L482.0,560.2 L483.2,570.5 L483.9,577.8 L485.4,569.0 L486.8,570.5 L488.7,573.4 L490.2,563.9 L491.2,570.5 L492.7,579.2 L493.7,585.1 L495.2,580.7 L496.7,571.9 L498.1,567.5 L500.0,563.9 L501.5,569.0 L503.0,561.7 L504.4,556.5 L505.9,559.5 L507.4,566.1 L508.8,563.9 L510.3,569.0 L511.8,575.6 L512.8,579.2 L514.0,571.9 L515.4,571.2 L517.2,572.6 L518.6,571.9 L520.1,564.6 L521.6,557.3 L523.0,548.5 L524.2,544.1 L526.0,543.3 L527.5,542.6 L528.6,547.0 L530.1,541.1 L531.5,537.5 L533.0,533.1 L534.5,533.8 L536.0,534.5 L537.4,530.9 L538.9,531.6 L540.1,535.3 L540.9,548.5 L541.7,552.9 L543.1,549.9 L545.3,544.1 L547.5,539.7 L549.7,538.2 L551.1,532.3 L552.6,525.5 L554.1,526.2 L555.5,524.0 L557.0,525.5 L558.5,530.6 L559.9,536.5 L561.4,543.8 L562.6,551.4 L563.6,552.9 L565.1,554.3 L566.5,555.8 L568.0,556.5 L569.5,557.3 L570.5,551.4 L571.7,544.1 L573.1,536.7 L574.6,531.6 L576.1,530.9 L577.5,535.3 L579.0,527.7 L580.5,523.3 L581.9,518.9 L583.4,514.5 L584.9,508.6 L586.3,502.8 L587.5,494.0 L588.5,479.3 L589.5,469.1 L591.0,464.4 L592.2,469.1 L593.4,472.7 L594.8,473.5 L595.9,479.3 L597.3,483.0 L598.3,482.3 L599.5,479.3 L600.7,474.2 L601.7,470.5 L602.7,471.3 L603.6,469.8 L604.6,468.8 L605.7,472.7 L606.9,477.9 L608.0,475.7 L609.5,477.1 L610.5,475.7 L611.5,472.0 L612.7,466.9 L613.7,464.4 L614.9,472.0 L615.9,479.3 L617.1,485.2 L618.3,488.9 L619.3,494.0 L620.3,504.2 L621.5,513.0 L622.7,518.9 L623.7,522.6 L625.2,519.6 L626.6,521.9 L628.1,520.4 L629.1,532.1 L630.0,543.1 L631.0,535.0 L631.8,523.3 L633.0,518.2 L634.0,521.9 L635.0,529.2 L636.2,519.6 L637.6,511.6 L639.1,506.4 L640.6,505.7 L642.0,508.6 L643.5,506.4 L645.0,504.0 L646.4,506.4 L647.9,513.0 L649.1,515.2 L650.1,502.8 L651.1,509.4 L652.3,515.2 L653.8,518.2 L655.2,521.9 L656.7,523.3 L658.5,526.2 L659.6,520.4 L660.8,516.7 L662.3,518.9 L663.7,517.5 L665.5,513.0 L667.0,505.7 L668.1,504.2 L669.2,509.4 L669.9,501.3 L670.6,488.1 L671.4,476.4 L672.1,475.7 L672.8,485.9 L674.0,479.3 L675.0,477.1 L676.1,485.2 L677.2,494.7 L678.0,488.1 L679.0,472.0 L679.9,460.3 L680.2,447.2 L680.9,441.3 L681.9,435.4 L683.1,428.1 L684.3,422.6 L685.3,436.9 L686.3,450.1 L686.9,456.0 L687.2,457.3 L687.8,464.7 L689.0,458.8 L690.1,463.9 L691.6,460.3 L693.1,455.9 L694.1,452.2 L694.8,461.7 L696.0,472.0 L697.5,476.1 L698.9,476.4 L700.4,472.0 L701.9,458.8 L702.9,452.9 L703.6,457.3 L705.1,461.7 L706.3,464.7 L707.3,469.8 L708.2,446.0 L708.9,421.2 L709.6,396.3 L710.4,374.3 L711.1,367.0 L712.6,359.7 L714.5,354.5 L715.1,367.0 L715.7,386.1 L716.2,404.4 L717.0,394.9 L718.0,389.0 L718.9,394.9 L719.9,402.2 L721.4,411.0 L722.4,409.5 L723.6,403.6 L724.6,400.0 L725.8,405.9 L726.5,394.9 L727.7,384.9 L728.7,391.9 L729.7,403.6 L730.9,411.0 L732.1,421.2 L733.1,427.8 L734.6,430.0 L736.0,433.0 L737.1,438.8 L738.7,444.0 L739.3,448.4 L740.1,452.1 L741.1,449.9 L742.0,463.1 L742.5,479.2 L743.1,489.4 L744.0,482.1 L745.2,474.8 L746.4,469.6 L747.4,474.8 L748.4,482.1 L749.3,493.8 L749.9,502.3 L751.1,506.7 L751.8,514.0 L752.5,536.0 L753.1,547.0 L754.0,541.9 L755.2,533.0 L756.3,525.7 L757.2,534.5 L758.1,544.8 L759.1,553.6 L760.1,558.0 L761.3,559.4 L762.5,558.0 L763.5,546.2 L764.5,533.0 L765.4,522.8 L766.5,518.4 L767.5,511.1 L768.4,506.7 L769.2,521.3 L770.1,541.9 L770.9,531.6 L771.6,524.5 L772.8,528.6 L774.2,533.8 L776.0,535.2 L778.2,536.0 L780.1,535.2 L781.5,530.1 L782.6,538.9 L783.6,546.2 L784.8,550.6 L785.7,558.0 L786.5,566.8 L787.7,563.8 L788.9,560.9 L789.9,562.4 L790.9,552.1 L792.1,546.2 L793.3,547.7 L794.3,538.9 L795.3,530.1 L796.5,522.0 L797.7,520.6 L798.7,523.5 L799.7,533.0 L800.9,544.8 L802.1,552.1 L803.0,538.9 L803.8,526.5 L805.0,533.0 L806.0,537.5 L807.5,541.9 L808.5,549.2 L809.4,558.0 L810.4,569.7 L811.5,565.3 L812.6,568.2 L813.8,563.8 L814.8,552.1 L815.9,553.6 L817.3,555.0 L819.2,556.5 L820.7,552.1 L822.2,547.7 L823.2,549.2 L824.4,536.0 L825.5,522.0 L826.6,527.2 L828.0,533.0 L829.5,535.2 L831.0,527.9 L832.0,520.6 L832.9,536.0 L833.9,549.2 L834.9,558.0 L835.8,559.4 L836.8,553.6 L838.3,552.1 L839.8,546.2 L841.2,541.9 L842.7,534.5 L844.2,524.2 L845.6,511.1 L846.7,499.3 L847.5,493.2 L848.6,502.3 L850.0,505.9 L851.1,500.8 L851.9,497.1 L853.4,500.8 L854.9,505.2 L855.9,506.7 L857.4,500.1 L858.4,508.1 L859.6,519.9 L860.7,534.5 L861.8,527.2 L863.2,518.4 L864.7,516.9 L866.2,517.6 L867.6,531.6 L869.1,530.1 L870.6,527.9 L871.6,538.9 L872.8,550.6 L873.9,540.4 L875.4,536.7 L877.2,538.2 L878.6,533.8 L880.1,538.2 L881.5,531.6 L883.0,524.2 L884.5,521.3 L885.0,522.8 L886.5,527.2 L887.9,528.6 L889.4,526.5 L891.2,522.8 L892.6,515.5 L893.5,525.7 L894.7,536.7 L895.6,528.6 L896.7,516.9 L898.2,510.3 L899.7,509.6 L901.1,513.3 L902.6,512.5 L904.1,509.6 L905.5,508.9 L907.0,511.1 L908.2,514.0 L909.6,511.1 L910.7,503.7 L911.4,500.8 L912.6,508.1 L913.6,511.8 L915.1,514.0 L916.5,520.6 L918.0,522.8 L919.5,519.1 L920.5,524.2 L921.7,527.2 L923.1,524.2 L924.6,521.3 L926.4,516.9 L927.8,512.5 L928.7,499.3 L929.4,487.6 L930.2,484.7 L931.2,493.5 L932.2,503.0 L933.4,508.9 L934.9,506.7 L936.0,496.4 L936.8,492.0 L937.8,495.7 L938.5,502.3 L939.5,514.0 L940.7,522.8 L941.5,525.7 L942.9,523.5 L944.4,524.2 L945.9,523.5 L947.3,525.4 L948.3,527.2 L949.2,516.9 L950.2,506.7 L951.3,494.9 L952.2,484.7 L953.6,483.9 L955.1,482.5 L956.9,479.5 L958.3,478.1 L959.5,482.5 L960.5,478.8 L961.2,475.1 L962.1,472.6 L963.0,478.8 L964.2,486.9 L965.4,488.3 L966.4,495.7 L967.4,500.8 L968.9,501.5 L970.0,498.6 L971.2,494.2 L972.4,485.4 L973.3,475.1 L974.4,474.1 L975.6,475.9 L976.6,470.7 L977.7,466.3 L978.5,463.4 L979.6,472.2 L980.3,482.5 L981.0,486.9 L981.8,483.9 L983.0,493.5 L984.0,502.3 L985.4,509.6 L986.9,519.9 L988.4,514.0 L989.8,506.7 L990.9,508.1 L992.0,514.7 L993.5,516.2 L995.3,516.9 L996.7,509.6 L997.9,500.8 L999.1,497.9 L1000.1,503.7 L1001.1,511.1 L1002.3,521.3 L1003.8,527.2 L1005.2,532.3 L1006.7,524.2 L1007.9,527.9 L1008.9,532.3 L1010.4,528.6 L1011.4,523.5 L1012.6,521.3 L1014.0,529.4 L1015.5,530.1 L1017.0,533.0 L1019.2,535.2 L1020.6,536.7 L1022.1,538.2 L1023.6,533.0 L1024.6,525.7 L1026.1,520.6 L1027.2,527.2 L1028.4,534.5 L1029.4,541.1 L1030.2,533.0 L1030.9,526.5 L1031.6,536.0 L1032.8,549.2 L1033.8,553.6 L1035.3,554.3 L1036.8,549.9 L1037.5,547.0 L1038.7,552.8 L1040.1,557.2 L1041.6,555.8 L1043.1,549.9 L1043.8,541.9 L1044.5,538.2 L1045.6,544.8 L1046.3,549.9 L1047.8,549.2 L1049.2,547.0 L1051.0,552.1 L1052.2,546.2 L1053.6,540.4 L1055.1,536.7 L1056.5,536.0 L1058.0,537.5 L1059.5,534.5 L1061.0,528.6 L1062.4,538.9 L1063.6,543.3 L1065.1,537.5 L1066.0,538.2 L1067.7,538.9 L1069.2,539.6 L1070.4,540.4 L1071.5,531.6 L1072.6,524.2 L1073.3,521.3 L1074.8,524.2 L1076.2,525.0 L1077.7,528.6 L1079.2,526.5 L1080.7,528.6 L1082.1,524.2 L1083.3,520.6 L1084.8,521.3 L1086.2,522.0 L1087.4,527.9 L1088.6,530.4 L1090.2,527.9 L1091.6,525.7 L1092.7,519.9 L1093.3,515.8 L1094.1,518.4 L1095.0,519.9 L1096.0,512.5 L1097.1,505.2 L1098.2,497.9 L1099.7,490.5 L1101.2,483.2 L1102.6,476.6 L1103.4,473.1 L1104.1,465.7 L1104.8,458.4 L1105.6,454.7 L1107.0,455.2 L1107.0,615.7 L17.0,615.7 Z" fill="url(#gr)"/>
<path d="M17.0,516.0 L17.6,516.0 L19.1,498.4 L20.6,488.1 L22.5,479.3 L24.7,478.6 L26.1,473.5 L27.3,469.1 L28.8,472.0 L30.5,467.3 L32.0,469.8 L33.5,474.9 L34.9,483.7 L36.4,494.0 L37.9,489.6 L39.3,487.8 L40.8,491.1 L42.0,473.5 L43.4,467.6 L45.2,461.0 L46.7,457.3 L47.8,458.1 L49.3,462.5 L50.8,464.7 L52.2,460.6 L53.3,467.6 L54.4,476.4 L55.8,472.0 L57.6,466.9 L60.6,461.0 L62.0,444.2 L63.1,435.4 L64.2,433.2 L66.0,434.7 L67.2,426.6 L68.4,423.0 L69.7,422.7 L70.8,428.4 L72.3,425.9 L73.8,421.5 L75.2,414.9 L76.3,409.1 L77.5,411.3 L78.6,410.5 L80.1,410.8 L81.5,414.2 L82.6,423.7 L84.0,432.5 L85.1,439.9 L86.0,445.0 L87.0,436.9 L88.0,428.1 L89.2,427.4 L90.3,434.0 L91.8,444.2 L93.3,450.1 L94.3,439.9 L95.8,426.6 L97.2,410.5 L98.4,398.8 L99.7,394.4 L101.2,401.7 L102.7,391.5 L103.8,390.7 L105.0,385.6 L106.5,377.5 L107.5,384.9 L108.5,392.2 L109.7,399.5 L110.9,407.6 L111.9,416.4 L112.6,429.6 L113.4,444.2 L114.1,458.9 L114.7,473.5 L115.3,485.9 L116.3,479.3 L117.8,472.0 L119.2,467.6 L120.7,461.7 L121.7,452.9 L122.6,464.7 L123.6,476.4 L124.8,472.0 L125.8,494.0 L126.6,514.5 L127.3,529.2 L128.5,533.6 L129.9,528.5 L131.4,535.0 L132.9,540.9 L134.6,537.2 L136.1,541.6 L137.6,548.2 L139.0,551.4 L140.5,548.5 L142.0,552.9 L143.7,556.5 L144.9,563.1 L146.4,571.9 L147.5,580.0 L149.0,576.3 L150.5,570.5 L152.2,566.8 L153.7,569.0 L155.4,571.9 L156.9,577.0 L158.4,575.6 L159.6,583.6 L161.0,590.2 L162.5,592.5 L164.0,589.5 L165.4,593.9 L166.9,596.9 L168.1,591.0 L169.1,583.6 L170.6,588.0 L172.0,592.5 L173.5,595.4 L175.7,594.6 L177.9,596.1 L180.1,599.8 L181.8,598.3 L183.8,596.1 L185.0,595.4 L186.5,596.9 L187.9,593.9 L189.4,586.6 L191.6,580.0 L193.8,576.3 L195.3,563.1 L196.4,550.7 L197.9,546.7 L199.4,547.0 L201.1,550.7 L202.6,554.3 L204.1,557.3 L205.1,551.4 L206.0,546.3 L207.0,552.1 L208.5,556.5 L210.7,558.7 L212.1,552.9 L213.2,545.5 L214.3,541.9 L215.1,551.4 L215.8,556.5 L217.0,547.0 L218.0,538.2 L219.0,530.1 L220.2,536.0 L221.7,539.7 L223.1,536.0 L224.9,533.8 L226.3,534.5 L227.8,539.7 L228.7,530.9 L229.3,519.7 L230.4,519.0 L231.6,525.0 L232.7,536.7 L233.4,540.4 L234.6,533.8 L236.0,530.9 L237.1,538.2 L238.1,544.8 L239.6,548.5 L241.0,547.0 L242.2,538.9 L243.2,532.3 L244.4,538.9 L245.8,540.4 L247.3,545.5 L248.8,549.2 L250.2,551.4 L251.7,549.2 L252.7,545.5 L253.9,552.1 L255.4,559.5 L256.9,565.3 L258.3,569.0 L259.5,575.6 L260.9,571.2 L262.7,570.5 L264.2,561.7 L265.4,558.7 L266.8,560.2 L268.3,563.9 L269.8,569.0 L271.2,573.4 L272.7,577.0 L274.1,571.9 L275.9,567.5 L277.7,563.1 L278.8,569.0 L280.0,582.2 L281.0,585.9 L282.5,580.7 L284.0,574.9 L285.4,570.5 L286.9,567.5 L288.4,564.6 L289.8,562.4 L291.3,563.9 L292.8,573.4 L293.5,564.6 L294.2,549.9 L295.3,541.1 L296.1,540.9 L297.2,536.5 L298.6,529.2 L300.1,518.9 L301.6,512.3 L303.0,513.8 L304.5,517.5 L306.0,520.4 L307.0,532.1 L308.2,538.0 L309.6,542.4 L311.1,540.9 L312.6,538.0 L314.0,536.5 L315.5,543.8 L317.0,538.0 L318.4,529.2 L319.9,526.2 L321.4,529.2 L322.8,535.0 L324.3,539.4 L325.8,543.1 L328.0,545.3 L329.4,549.2 L330.9,552.9 L333.1,557.3 L335.3,560.9 L337.5,563.1 L339.7,564.6 L341.2,562.4 L342.6,558.7 L344.5,558.0 L345.6,547.0 L346.3,538.2 L346.9,532.1 L347.5,527.7 L348.9,529.9 L350.4,520.4 L351.4,511.6 L352.4,507.9 L353.6,514.5 L354.8,521.9 L355.8,527.7 L356.9,532.8 L358.0,529.9 L359.5,529.2 L360.0,529.2 L362.2,526.2 L364.4,522.6 L366.6,519.6 L368.1,521.9 L369.5,520.4 L371.0,516.7 L372.5,513.8 L373.9,517.5 L375.4,520.4 L376.9,524.8 L378.3,530.6 L379.8,536.5 L381.3,539.4 L382.3,532.1 L383.5,524.0 L384.6,521.1 L386.1,527.7 L387.6,520.4 L389.0,516.0 L390.8,518.9 L392.3,521.9 L393.7,517.5 L395.2,513.8 L396.7,511.9 L398.1,511.6 L399.3,518.9 L400.3,527.7 L401.1,538.0 L401.6,547.0 L402.5,558.7 L404.0,563.1 L405.2,570.5 L406.2,577.8 L407.2,581.5 L408.4,574.9 L409.9,566.1 L411.3,558.7 L412.5,564.6 L413.5,560.2 L414.6,552.9 L415.7,545.5 L416.4,542.3 L417.5,549.9 L418.6,560.2 L419.8,567.5 L421.6,569.0 L423.3,571.2 L424.5,572.6 L425.7,560.2 L426.7,548.5 L427.4,539.7 L428.0,533.6 L428.6,523.3 L429.6,508.6 L430.7,511.6 L431.6,518.9 L432.6,511.6 L433.3,510.1 L434.5,518.9 L435.5,529.2 L437.0,524.8 L438.1,521.1 L439.2,529.2 L440.4,534.3 L441.4,532.8 L442.4,540.9 L443.6,546.8 L445.0,551.4 L446.5,556.5 L448.0,553.6 L449.4,560.2 L451.2,557.3 L452.4,563.9 L453.6,569.7 L455.0,566.8 L456.8,561.7 L458.5,558.7 L460.0,563.1 L461.5,570.5 L462.4,561.7 L463.4,551.4 L464.8,547.0 L466.3,541.1 L467.8,533.8 L468.8,524.1 L469.7,532.3 L470.7,536.7 L472.2,535.3 L473.6,536.0 L475.1,542.6 L476.6,548.5 L478.0,554.3 L479.5,558.7 L481.0,561.7 L482.0,560.2 L483.2,570.5 L483.9,577.8 L485.4,569.0 L486.8,570.5 L488.7,573.4 L490.2,563.9 L491.2,570.5 L492.7,579.2 L493.7,585.1 L495.2,580.7 L496.7,571.9 L498.1,567.5 L500.0,563.9 L501.5,569.0 L503.0,561.7 L504.4,556.5 L505.9,559.5 L507.4,566.1 L508.8,563.9 L510.3,569.0 L511.8,575.6 L512.8,579.2 L514.0,571.9 L515.4,571.2 L517.2,572.6 L518.6,571.9 L520.1,564.6 L521.6,557.3 L523.0,548.5 L524.2,544.1 L526.0,543.3 L527.5,542.6 L528.6,547.0 L530.1,541.1 L531.5,537.5 L533.0,533.1 L534.5,533.8 L536.0,534.5 L537.4,530.9 L538.9,531.6 L540.1,535.3 L540.9,548.5 L541.7,552.9 L543.1,549.9 L545.3,544.1 L547.5,539.7 L549.7,538.2 L551.1,532.3 L552.6,525.5 L554.1,526.2 L555.5,524.0 L557.0,525.5 L558.5,530.6 L559.9,536.5 L561.4,543.8 L562.6,551.4 L563.6,552.9 L565.1,554.3 L566.5,555.8 L568.0,556.5 L569.5,557.3 L570.5,551.4 L571.7,544.1 L573.1,536.7 L574.6,531.6 L576.1,530.9 L577.5,535.3 L579.0,527.7 L580.5,523.3 L581.9,518.9 L583.4,514.5 L584.9,508.6 L586.3,502.8 L587.5,494.0 L588.5,479.3 L589.5,469.1 L591.0,464.4 L592.2,469.1 L593.4,472.7 L594.8,473.5 L595.9,479.3 L597.3,483.0 L598.3,482.3 L599.5,479.3 L600.7,474.2 L601.7,470.5 L602.7,471.3 L603.6,469.8 L604.6,468.8 L605.7,472.7 L606.9,477.9 L608.0,475.7 L609.5,477.1 L610.5,475.7 L611.5,472.0 L612.7,466.9 L613.7,464.4 L614.9,472.0 L615.9,479.3 L617.1,485.2 L618.3,488.9 L619.3,494.0 L620.3,504.2 L621.5,513.0 L622.7,518.9 L623.7,522.6 L625.2,519.6 L626.6,521.9 L628.1,520.4 L629.1,532.1 L630.0,543.1 L631.0,535.0 L631.8,523.3 L633.0,518.2 L634.0,521.9 L635.0,529.2 L636.2,519.6 L637.6,511.6 L639.1,506.4 L640.6,505.7 L642.0,508.6 L643.5,506.4 L645.0,504.0 L646.4,506.4 L647.9,513.0 L649.1,515.2 L650.1,502.8 L651.1,509.4 L652.3,515.2 L653.8,518.2 L655.2,521.9 L656.7,523.3 L658.5,526.2 L659.6,520.4 L660.8,516.7 L662.3,518.9 L663.7,517.5 L665.5,513.0 L667.0,505.7 L668.1,504.2 L669.2,509.4 L669.9,501.3 L670.6,488.1 L671.4,476.4 L672.1,475.7 L672.8,485.9 L674.0,479.3 L675.0,477.1 L676.1,485.2 L677.2,494.7 L678.0,488.1 L679.0,472.0 L679.9,460.3 L680.2,447.2 L680.9,441.3 L681.9,435.4 L683.1,428.1 L684.3,422.6 L685.3,436.9 L686.3,450.1 L686.9,456.0 L687.2,457.3 L687.8,464.7 L689.0,458.8 L690.1,463.9 L691.6,460.3 L693.1,455.9 L694.1,452.2 L694.8,461.7 L696.0,472.0 L697.5,476.1 L698.9,476.4 L700.4,472.0 L701.9,458.8 L702.9,452.9 L703.6,457.3 L705.1,461.7 L706.3,464.7 L707.3,469.8 L708.2,446.0 L708.9,421.2 L709.6,396.3 L710.4,374.3 L711.1,367.0 L712.6,359.7 L714.5,354.5 L715.1,367.0 L715.7,386.1 L716.2,404.4 L717.0,394.9 L718.0,389.0 L718.9,394.9 L719.9,402.2 L721.4,411.0 L722.4,409.5 L723.6,403.6 L724.6,400.0 L725.8,405.9 L726.5,394.9 L727.7,384.9 L728.7,391.9 L729.7,403.6 L730.9,411.0 L732.1,421.2 L733.1,427.8 L734.6,430.0 L736.0,433.0 L737.1,438.8 L738.7,444.0 L739.3,448.4 L740.1,452.1 L741.1,449.9 L742.0,463.1 L742.5,479.2 L743.1,489.4 L744.0,482.1 L745.2,474.8 L746.4,469.6 L747.4,474.8 L748.4,482.1 L749.3,493.8 L749.9,502.3 L751.1,506.7 L751.8,514.0 L752.5,536.0 L753.1,547.0 L754.0,541.9 L755.2,533.0 L756.3,525.7 L757.2,534.5 L758.1,544.8 L759.1,553.6 L760.1,558.0 L761.3,559.4 L762.5,558.0 L763.5,546.2 L764.5,533.0 L765.4,522.8 L766.5,518.4 L767.5,511.1 L768.4,506.7 L769.2,521.3 L770.1,541.9 L770.9,531.6 L771.6,524.5 L772.8,528.6 L774.2,533.8 L776.0,535.2 L778.2,536.0 L780.1,535.2 L781.5,530.1 L782.6,538.9 L783.6,546.2 L784.8,550.6 L785.7,558.0 L786.5,566.8 L787.7,563.8 L788.9,560.9 L789.9,562.4 L790.9,552.1 L792.1,546.2 L793.3,547.7 L794.3,538.9 L795.3,530.1 L796.5,522.0 L797.7,520.6 L798.7,523.5 L799.7,533.0 L800.9,544.8 L802.1,552.1 L803.0,538.9 L803.8,526.5 L805.0,533.0 L806.0,537.5 L807.5,541.9 L808.5,549.2 L809.4,558.0 L810.4,569.7 L811.5,565.3 L812.6,568.2 L813.8,563.8 L814.8,552.1 L815.9,553.6 L817.3,555.0 L819.2,556.5 L820.7,552.1 L822.2,547.7 L823.2,549.2 L824.4,536.0 L825.5,522.0 L826.6,527.2 L828.0,533.0 L829.5,535.2 L831.0,527.9 L832.0,520.6 L832.9,536.0 L833.9,549.2 L834.9,558.0 L835.8,559.4 L836.8,553.6 L838.3,552.1 L839.8,546.2 L841.2,541.9 L842.7,534.5 L844.2,524.2 L845.6,511.1 L846.7,499.3 L847.5,493.2 L848.6,502.3 L850.0,505.9 L851.1,500.8 L851.9,497.1 L853.4,500.8 L854.9,505.2 L855.9,506.7 L857.4,500.1 L858.4,508.1 L859.6,519.9 L860.7,534.5 L861.8,527.2 L863.2,518.4 L864.7,516.9 L866.2,517.6 L867.6,531.6 L869.1,530.1 L870.6,527.9 L871.6,538.9 L872.8,550.6 L873.9,540.4 L875.4,536.7 L877.2,538.2 L878.6,533.8 L880.1,538.2 L881.5,531.6 L883.0,524.2 L884.5,521.3 L885.0,522.8 L886.5,527.2 L887.9,528.6 L889.4,526.5 L891.2,522.8 L892.6,515.5 L893.5,525.7 L894.7,536.7 L895.6,528.6 L896.7,516.9 L898.2,510.3 L899.7,509.6 L901.1,513.3 L902.6,512.5 L904.1,509.6 L905.5,508.9 L907.0,511.1 L908.2,514.0 L909.6,511.1 L910.7,503.7 L911.4,500.8 L912.6,508.1 L913.6,511.8 L915.1,514.0 L916.5,520.6 L918.0,522.8 L919.5,519.1 L920.5,524.2 L921.7,527.2 L923.1,524.2 L924.6,521.3 L926.4,516.9 L927.8,512.5 L928.7,499.3 L929.4,487.6 L930.2,484.7 L931.2,493.5 L932.2,503.0 L933.4,508.9 L934.9,506.7 L936.0,496.4 L936.8,492.0 L937.8,495.7 L938.5,502.3 L939.5,514.0 L940.7,522.8 L941.5,525.7 L942.9,523.5 L944.4,524.2 L945.9,523.5 L947.3,525.4 L948.3,527.2 L949.2,516.9 L950.2,506.7 L951.3,494.9 L952.2,484.7 L953.6,483.9 L955.1,482.5 L956.9,479.5 L958.3,478.1 L959.5,482.5 L960.5,478.8 L961.2,475.1 L962.1,472.6 L963.0,478.8 L964.2,486.9 L965.4,488.3 L966.4,495.7 L967.4,500.8 L968.9,501.5 L970.0,498.6 L971.2,494.2 L972.4,485.4 L973.3,475.1 L974.4,474.1 L975.6,475.9 L976.6,470.7 L977.7,466.3 L978.5,463.4 L979.6,472.2 L980.3,482.5 L981.0,486.9 L981.8,483.9 L983.0,493.5 L984.0,502.3 L985.4,509.6 L986.9,519.9 L988.4,514.0 L989.8,506.7 L990.9,508.1 L992.0,514.7 L993.5,516.2 L995.3,516.9 L996.7,509.6 L997.9,500.8 L999.1,497.9 L1000.1,503.7 L1001.1,511.1 L1002.3,521.3 L1003.8,527.2 L1005.2,532.3 L1006.7,524.2 L1007.9,527.9 L1008.9,532.3 L1010.4,528.6 L1011.4,523.5 L1012.6,521.3 L1014.0,529.4 L1015.5,530.1 L1017.0,533.0 L1019.2,535.2 L1020.6,536.7 L1022.1,538.2 L1023.6,533.0 L1024.6,525.7 L1026.1,520.6 L1027.2,527.2 L1028.4,534.5 L1029.4,541.1 L1030.2,533.0 L1030.9,526.5 L1031.6,536.0 L1032.8,549.2 L1033.8,553.6 L1035.3,554.3 L1036.8,549.9 L1037.5,547.0 L1038.7,552.8 L1040.1,557.2 L1041.6,555.8 L1043.1,549.9 L1043.8,541.9 L1044.5,538.2 L1045.6,544.8 L1046.3,549.9 L1047.8,549.2 L1049.2,547.0 L1051.0,552.1 L1052.2,546.2 L1053.6,540.4 L1055.1,536.7 L1056.5,536.0 L1058.0,537.5 L1059.5,534.5 L1061.0,528.6 L1062.4,538.9 L1063.6,543.3 L1065.1,537.5 L1066.0,538.2 L1067.7,538.9 L1069.2,539.6 L1070.4,540.4 L1071.5,531.6 L1072.6,524.2 L1073.3,521.3 L1074.8,524.2 L1076.2,525.0 L1077.7,528.6 L1079.2,526.5 L1080.7,528.6 L1082.1,524.2 L1083.3,520.6 L1084.8,521.3 L1086.2,522.0 L1087.4,527.9 L1088.6,530.4 L1090.2,527.9 L1091.6,525.7 L1092.7,519.9 L1093.3,515.8 L1094.1,518.4 L1095.0,519.9 L1096.0,512.5 L1097.1,505.2 L1098.2,497.9 L1099.7,490.5 L1101.2,483.2 L1102.6,476.6 L1103.4,473.1 L1104.1,465.7 L1104.8,458.4 L1105.6,454.7 L1107.0,455.2" fill="none" stroke="#dc3024" stroke-width="1.25" stroke-linejoin="round"/>
<path d="M17.0,561.7 L17.6,561.7 L18.8,554.3 L20.3,545.5 L21.7,538.9 L23.5,536.0 L25.4,537.5 L26.9,539.7 L28.3,548.5 L29.8,541.1 L31.3,538.2 L32.7,542.6 L34.2,548.5 L35.7,554.3 L37.1,561.7 L38.6,564.6 L40.1,561.7 L41.5,556.5 L43.0,551.4 L44.5,550.7 L45.9,555.8 L47.8,559.5 L49.6,555.8 L51.4,552.1 L53.3,552.1 L54.7,549.2 L56.2,544.1 L57.6,547.0 L59.1,542.6 L60.6,536.7 L62.0,530.9 L63.5,531.6 L65.0,533.1 L66.5,530.9 L67.9,529.4 L69.4,533.8 L70.8,538.2 L72.3,533.8 L73.8,529.4 L75.2,525.7 L76.3,523.2 L77.7,527.9 L79.2,535.3 L80.4,542.6 L81.8,549.9 L83.3,551.4 L84.8,549.2 L86.2,560.2 L87.7,563.9 L89.2,561.7 L90.7,563.9 L92.1,566.8 L93.6,568.3 L95.0,563.1 L96.5,556.5 L98.0,555.1 L99.4,556.5 L101.6,559.5 L103.8,560.2 L106.0,560.9 L108.2,562.4 L110.4,566.1 L111.9,569.0 L113.4,574.9 L114.8,577.8 L117.0,579.2 L119.2,582.9 L121.4,585.9 L123.6,586.6 L125.1,588.0 L126.6,593.9 L128.0,596.1 L130.2,595.1 L132.4,597.6 L134.6,599.8 L136.4,599.0 L138.3,601.2 L140.5,600.5 L142.7,599.0 L144.9,600.5 L147.1,602.0 L149.3,602.7 L151.5,601.2 L153.7,601.0 L155.9,602.7 L158.8,605.4 L161.0,602.7 L163.2,598.3 L165.4,599.8 L167.6,597.6 L169.8,599.8 L171.3,601.5 L173.5,600.5 L175.7,599.0 L177.9,599.0 L180.1,600.5 L182.3,598.3 L184.5,596.5 L185.0,596.1 L186.5,600.5 L187.9,599.0 L190.1,597.6 L192.3,596.9 L194.5,595.4 L196.0,592.5 L197.5,588.8 L198.9,593.2 L200.4,596.9 L202.3,597.6 L204.1,594.6 L205.8,592.5 L207.0,596.9 L208.5,595.4 L209.9,596.5 L211.4,595.4 L212.6,583.6 L213.6,576.3 L215.1,574.9 L216.5,573.4 L218.0,568.3 L219.5,566.8 L220.9,569.7 L222.4,572.6 L223.9,574.1 L225.8,574.9 L227.5,575.6 L228.7,563.1 L229.7,558.0 L231.2,563.1 L232.7,565.3 L234.1,566.1 L235.6,567.5 L237.8,568.3 L240.0,570.5 L241.4,572.6 L242.9,569.7 L244.4,566.8 L245.8,571.2 L247.3,573.4 L248.8,576.3 L250.2,581.5 L251.3,585.1 L252.7,580.0 L254.7,581.5 L256.9,583.6 L259.1,586.6 L261.2,585.1 L263.4,583.6 L264.9,579.2 L266.4,574.9 L267.8,573.4 L269.3,575.6 L270.8,581.5 L272.2,586.6 L273.0,588.8 L274.7,583.6 L276.6,580.7 L278.1,582.9 L279.6,587.3 L281.5,590.2 L282.9,583.6 L284.4,576.3 L285.9,570.5 L287.4,563.9 L288.8,559.5 L289.8,569.0 L291.3,574.9 L292.8,574.1 L293.5,566.1 L294.2,556.5 L295.3,547.0 L296.1,538.2 L297.0,529.4 L297.6,511.6 L299.1,501.3 L300.5,492.5 L302.0,485.9 L303.8,480.8 L305.2,483.0 L306.7,491.1 L308.2,496.9 L309.6,501.3 L311.1,504.2 L312.6,510.1 L314.0,507.9 L315.5,513.0 L317.0,515.2 L318.4,507.2 L319.9,504.2 L321.4,504.0 L322.8,506.4 L324.3,514.5 L325.8,523.3 L327.2,530.1 L328.7,529.4 L330.2,533.1 L331.6,538.9 L333.1,536.7 L334.6,539.7 L336.0,544.1 L337.8,547.7 L339.7,547.0 L341.9,546.3 L343.4,543.3 L344.8,538.2 L346.0,532.3 L347.5,528.7 L348.5,529.9 L350.0,523.3 L351.4,517.5 L352.9,520.4 L354.4,526.2 L355.8,533.1 L357.7,535.3 L359.2,531.6 L360.0,530.9 L361.5,535.3 L363.7,538.9 L365.9,540.4 L367.3,534.5 L368.8,538.2 L370.3,534.5 L372.5,531.6 L373.9,535.3 L375.4,539.7 L377.6,543.3 L379.8,548.5 L381.3,552.9 L382.3,545.5 L383.8,538.9 L385.2,535.3 L386.7,532.3 L388.1,529.4 L389.3,520.5 L390.8,528.2 L392.6,532.3 L394.5,535.3 L396.7,537.5 L398.4,542.6 L399.6,552.9 L400.8,563.1 L401.8,570.5 L403.3,569.0 L404.7,571.9 L406.2,575.6 L407.6,569.0 L409.1,561.7 L410.6,556.5 L411.6,555.1 L412.8,563.1 L414.2,570.5 L415.4,563.1 L416.9,555.1 L417.9,551.4 L418.9,561.7 L420.1,564.6 L421.6,563.9 L423.3,564.6 L424.5,570.5 L425.7,561.7 L426.7,554.3 L428.2,548.5 L429.6,541.9 L431.1,545.5 L432.6,547.7 L434.8,549.9 L436.2,562.4 L438.0,559.5 L439.9,563.1 L441.4,567.5 L442.8,570.5 L444.3,574.9 L445.8,580.7 L447.7,582.9 L449.1,580.7 L450.6,586.6 L451.6,582.9 L453.1,591.0 L454.6,593.2 L456.0,591.7 L457.9,593.9 L459.7,594.6 L461.5,599.0 L462.6,589.5 L464.1,585.1 L465.6,582.2 L467.0,576.3 L468.5,571.9 L470.0,574.9 L471.7,578.5 L473.6,582.2 L475.5,585.1 L477.3,586.6 L479.5,588.0 L481.0,585.9 L482.4,589.5 L483.9,593.9 L485.4,591.0 L487.3,590.2 L489.0,589.5 L490.2,585.1 L491.7,590.2 L493.1,589.5 L494.6,593.9 L496.1,595.4 L497.1,588.0 L498.6,582.2 L500.0,577.8 L501.5,574.9 L503.0,567.5 L504.4,563.1 L505.9,567.5 L507.4,568.3 L508.8,566.8 L510.3,573.4 L511.8,577.8 L513.2,581.5 L514.7,583.6 L516.2,582.2 L517.6,579.2 L519.1,580.7 L520.1,574.9 L521.6,566.1 L523.0,561.7 L524.5,560.2 L526.0,559.5 L527.2,549.2 L528.6,543.3 L530.1,537.5 L531.5,531.6 L533.0,525.7 L534.5,522.8 L536.0,524.3 L537.4,527.9 L538.6,530.9 L539.1,541.1 L540.3,549.9 L541.6,558.0 L542.3,561.7 L543.8,566.1 L546.0,569.7 L547.9,567.5 L549.7,563.1 L551.4,560.2 L553.3,559.5 L554.8,558.0 L556.3,555.1 L557.7,560.2 L559.2,566.1 L561.1,569.0 L562.9,573.4 L565.1,576.3 L566.5,573.4 L568.0,569.0 L569.5,564.6 L570.9,563.9 L572.8,564.6 L574.6,563.1 L576.1,560.2 L577.5,552.9 L579.0,549.9 L580.8,548.5 L582.6,547.7 L584.6,546.3 L586.0,542.6 L586.9,535.3 L587.5,526.2 L588.5,511.6 L589.2,500.6 L590.0,499.1 L591.0,505.7 L592.2,510.1 L593.4,514.5 L594.8,513.8 L595.9,516.7 L597.3,521.9 L598.3,520.4 L599.2,511.6 L600.2,502.8 L601.7,496.9 L603.2,496.2 L604.6,495.2 L605.7,498.4 L606.9,501.3 L608.3,503.5 L609.8,505.0 L611.2,508.6 L612.4,501.3 L613.5,494.0 L614.9,492.5 L615.9,496.9 L617.1,505.7 L618.3,511.6 L619.8,516.0 L620.8,521.9 L621.8,529.2 L623.0,538.9 L624.4,544.1 L625.9,545.5 L627.1,551.4 L628.8,553.6 L630.3,555.1 L632.5,555.8 L634.4,558.0 L635.4,560.2 L636.9,554.3 L638.4,552.1 L639.8,553.6 L640.9,558.0 L642.3,561.7 L643.8,564.6 L645.3,563.1 L646.7,560.9 L648.6,561.7 L650.5,559.5 L652.0,564.6 L653.5,567.5 L654.9,570.5 L656.4,574.9 L657.9,570.5 L659.3,564.6 L660.8,559.5 L662.6,560.2 L664.8,560.2 L666.2,562.4 L667.7,566.1 L668.7,569.0 L670.2,561.7 L672.1,564.6 L674.0,563.9 L675.5,563.1 L677.2,564.6 L678.7,569.0 L680.2,568.3 L681.6,564.6 L683.4,566.8 L685.3,563.9 L687.2,563.1 L688.7,566.8 L690.4,567.5 L692.2,569.0 L693.6,564.6 L695.0,561.3 L697.0,560.0 L698.9,564.5 L700.9,567.2 L702.8,570.4 L704.8,574.3 L706.7,571.7 L708.7,575.6 L710.0,573.0 L711.3,569.1 L712.6,567.8 L713.9,562.6 L715.2,552.2 L715.9,549.6 L716.9,553.5 L717.8,558.7 L718.7,565.2 L719.8,571.7 L721.1,575.6 L722.4,576.9 L723.7,575.0 L725.2,576.9 L726.9,573.0 L728.2,571.7 L729.5,575.6 L731.2,579.5 L732.8,581.5 L734.1,580.9 L736.1,584.8 L738.0,590.0 L740.0,590.6 L741.3,590.0 L742.6,593.9 L744.5,599.1 L746.5,601.1 L747.8,603.0 L749.1,596.5 L750.4,593.9 L752.4,591.9 L755.0,590.6 L756.2,589.4 L757.6,591.6 L759.1,596.0 L760.6,598.9 L762.5,601.9 L764.0,598.2 L765.4,593.8 L766.9,592.3 L768.6,595.2 L770.4,596.7 L772.3,595.2 L774.2,599.6 L776.0,597.5 L778.2,596.0 L780.4,594.5 L782.6,595.2 L784.5,593.8 L786.2,590.9 L788.0,594.5 L789.9,596.7 L791.8,591.6 L793.6,593.8 L795.8,592.3 L797.7,591.6 L799.7,596.7 L801.6,596.0 L803.8,594.5 L806.0,593.8 L808.0,597.5 L809.7,596.7 L811.2,588.6 L812.4,587.9 L813.8,592.3 L815.6,590.1 L817.3,587.9 L819.2,585.7 L821.1,585.0 L822.6,579.9 L824.1,582.8 L825.8,579.1 L827.6,581.3 L829.5,583.5 L831.4,585.7 L833.2,586.5 L835.4,589.4 L837.6,587.2 L839.3,587.9 L840.8,582.8 L842.3,579.1 L844.2,577.6 L846.1,575.5 L847.5,573.3 L849.3,575.5 L851.1,574.0 L853.0,576.2 L854.9,579.9 L856.6,582.0 L858.4,583.5 L859.9,586.5 L861.8,584.2 L863.7,581.3 L865.7,579.9 L867.6,579.1 L869.1,582.8 L871.0,579.1 L872.8,583.5 L875.0,582.0 L877.2,581.3 L879.4,580.6 L880.8,574.0 L882.3,569.6 L884.2,568.1 L885.0,571.1 L886.8,568.9 L888.7,566.7 L890.6,565.9 L892.0,565.2 L893.5,571.1 L895.0,576.9 L896.4,575.5 L897.9,568.1 L899.7,563.0 L901.1,568.1 L902.6,573.3 L904.1,579.1 L905.5,572.5 L906.7,570.3 L907.7,576.9 L909.2,569.6 L910.7,563.0 L912.1,567.4 L913.6,571.8 L915.1,572.5 L916.5,567.4 L918.4,563.0 L919.9,566.7 L921.4,570.3 L922.8,565.9 L924.6,562.3 L926.1,565.2 L927.5,556.4 L928.7,546.1 L929.7,540.6 L931.2,546.1 L932.6,551.3 L934.1,552.7 L935.6,546.9 L937.0,545.4 L938.5,549.1 L940.4,552.0 L941.9,548.3 L943.4,543.9 L944.8,548.3 L946.3,553.5 L947.8,560.1 L949.2,555.7 L950.7,553.5 L952.2,557.1 L953.6,554.9 L955.1,552.7 L956.5,552.0 L958.0,554.9 L959.8,555.7 L961.2,558.6 L962.7,563.0 L964.2,565.2 L966.4,566.7 L968.3,571.8 L969.8,561.5 L971.2,556.4 L972.7,553.5 L974.1,549.8 L975.6,546.4 L977.4,545.8 L978.8,545.4 L980.6,545.4 L981.5,552.0 L982.5,558.6 L983.5,564.5 L984.7,571.1 L986.2,574.7 L987.6,565.2 L989.1,563.0 L990.9,563.0 L992.3,565.2 L993.8,568.9 L995.7,564.5 L998.6,563.0 L1000.1,567.4 L1001.6,574.7 L1003.0,571.1 L1004.5,566.7 L1006.7,564.5 L1008.9,562.3 L1010.8,561.5 L1011.8,566.7 L1013.3,573.3 L1014.8,574.7 L1017.0,574.0 L1019.2,575.5 L1020.6,576.9 L1022.1,569.6 L1023.1,563.7 L1024.3,560.8 L1025.5,567.4 L1026.5,575.5 L1028.0,579.1 L1030.2,578.4 L1032.4,579.1 L1034.6,577.6 L1036.8,575.5 L1038.2,578.4 L1039.7,582.0 L1041.2,584.2 L1042.6,579.9 L1043.7,573.3 L1044.5,570.3 L1045.6,575.5 L1047.0,578.4 L1048.5,576.9 L1050.0,577.6 L1051.4,579.1 L1052.9,572.5 L1054.3,568.9 L1055.8,574.7 L1057.3,579.9 L1058.8,581.3 L1061.0,580.6 L1063.2,578.4 L1065.1,578.4 L1066.7,585.7 L1068.6,586.5 L1070.4,585.7 L1071.8,586.5 L1073.3,584.2 L1074.5,582.8 L1076.0,586.5 L1077.4,590.1 L1079.2,587.9 L1080.9,587.2 L1082.4,584.2 L1083.6,582.0 L1085.0,583.5 L1086.5,585.7 L1087.7,586.5 L1088.7,582.0 L1090.2,578.4 L1091.6,574.7 L1093.1,571.8 L1094.6,569.6 L1095.6,565.2 L1096.5,559.3 L1097.5,553.5 L1098.5,550.5 L1099.7,554.2 L1101.2,557.1 L1102.6,556.4 L1104.1,554.2 L1105.6,552.0 L1107.0,552.7 L1107.0,615.7 L17.0,615.7 Z" fill="url(#go)"/>
<path d="M17.0,561.7 L17.6,561.7 L18.8,554.3 L20.3,545.5 L21.7,538.9 L23.5,536.0 L25.4,537.5 L26.9,539.7 L28.3,548.5 L29.8,541.1 L31.3,538.2 L32.7,542.6 L34.2,548.5 L35.7,554.3 L37.1,561.7 L38.6,564.6 L40.1,561.7 L41.5,556.5 L43.0,551.4 L44.5,550.7 L45.9,555.8 L47.8,559.5 L49.6,555.8 L51.4,552.1 L53.3,552.1 L54.7,549.2 L56.2,544.1 L57.6,547.0 L59.1,542.6 L60.6,536.7 L62.0,530.9 L63.5,531.6 L65.0,533.1 L66.5,530.9 L67.9,529.4 L69.4,533.8 L70.8,538.2 L72.3,533.8 L73.8,529.4 L75.2,525.7 L76.3,523.2 L77.7,527.9 L79.2,535.3 L80.4,542.6 L81.8,549.9 L83.3,551.4 L84.8,549.2 L86.2,560.2 L87.7,563.9 L89.2,561.7 L90.7,563.9 L92.1,566.8 L93.6,568.3 L95.0,563.1 L96.5,556.5 L98.0,555.1 L99.4,556.5 L101.6,559.5 L103.8,560.2 L106.0,560.9 L108.2,562.4 L110.4,566.1 L111.9,569.0 L113.4,574.9 L114.8,577.8 L117.0,579.2 L119.2,582.9 L121.4,585.9 L123.6,586.6 L125.1,588.0 L126.6,593.9 L128.0,596.1 L130.2,595.1 L132.4,597.6 L134.6,599.8 L136.4,599.0 L138.3,601.2 L140.5,600.5 L142.7,599.0 L144.9,600.5 L147.1,602.0 L149.3,602.7 L151.5,601.2 L153.7,601.0 L155.9,602.7 L158.8,605.4 L161.0,602.7 L163.2,598.3 L165.4,599.8 L167.6,597.6 L169.8,599.8 L171.3,601.5 L173.5,600.5 L175.7,599.0 L177.9,599.0 L180.1,600.5 L182.3,598.3 L184.5,596.5 L185.0,596.1 L186.5,600.5 L187.9,599.0 L190.1,597.6 L192.3,596.9 L194.5,595.4 L196.0,592.5 L197.5,588.8 L198.9,593.2 L200.4,596.9 L202.3,597.6 L204.1,594.6 L205.8,592.5 L207.0,596.9 L208.5,595.4 L209.9,596.5 L211.4,595.4 L212.6,583.6 L213.6,576.3 L215.1,574.9 L216.5,573.4 L218.0,568.3 L219.5,566.8 L220.9,569.7 L222.4,572.6 L223.9,574.1 L225.8,574.9 L227.5,575.6 L228.7,563.1 L229.7,558.0 L231.2,563.1 L232.7,565.3 L234.1,566.1 L235.6,567.5 L237.8,568.3 L240.0,570.5 L241.4,572.6 L242.9,569.7 L244.4,566.8 L245.8,571.2 L247.3,573.4 L248.8,576.3 L250.2,581.5 L251.3,585.1 L252.7,580.0 L254.7,581.5 L256.9,583.6 L259.1,586.6 L261.2,585.1 L263.4,583.6 L264.9,579.2 L266.4,574.9 L267.8,573.4 L269.3,575.6 L270.8,581.5 L272.2,586.6 L273.0,588.8 L274.7,583.6 L276.6,580.7 L278.1,582.9 L279.6,587.3 L281.5,590.2 L282.9,583.6 L284.4,576.3 L285.9,570.5 L287.4,563.9 L288.8,559.5 L289.8,569.0 L291.3,574.9 L292.8,574.1 L293.5,566.1 L294.2,556.5 L295.3,547.0 L296.1,538.2 L297.0,529.4 L297.6,511.6 L299.1,501.3 L300.5,492.5 L302.0,485.9 L303.8,480.8 L305.2,483.0 L306.7,491.1 L308.2,496.9 L309.6,501.3 L311.1,504.2 L312.6,510.1 L314.0,507.9 L315.5,513.0 L317.0,515.2 L318.4,507.2 L319.9,504.2 L321.4,504.0 L322.8,506.4 L324.3,514.5 L325.8,523.3 L327.2,530.1 L328.7,529.4 L330.2,533.1 L331.6,538.9 L333.1,536.7 L334.6,539.7 L336.0,544.1 L337.8,547.7 L339.7,547.0 L341.9,546.3 L343.4,543.3 L344.8,538.2 L346.0,532.3 L347.5,528.7 L348.5,529.9 L350.0,523.3 L351.4,517.5 L352.9,520.4 L354.4,526.2 L355.8,533.1 L357.7,535.3 L359.2,531.6 L360.0,530.9 L361.5,535.3 L363.7,538.9 L365.9,540.4 L367.3,534.5 L368.8,538.2 L370.3,534.5 L372.5,531.6 L373.9,535.3 L375.4,539.7 L377.6,543.3 L379.8,548.5 L381.3,552.9 L382.3,545.5 L383.8,538.9 L385.2,535.3 L386.7,532.3 L388.1,529.4 L389.3,520.5 L390.8,528.2 L392.6,532.3 L394.5,535.3 L396.7,537.5 L398.4,542.6 L399.6,552.9 L400.8,563.1 L401.8,570.5 L403.3,569.0 L404.7,571.9 L406.2,575.6 L407.6,569.0 L409.1,561.7 L410.6,556.5 L411.6,555.1 L412.8,563.1 L414.2,570.5 L415.4,563.1 L416.9,555.1 L417.9,551.4 L418.9,561.7 L420.1,564.6 L421.6,563.9 L423.3,564.6 L424.5,570.5 L425.7,561.7 L426.7,554.3 L428.2,548.5 L429.6,541.9 L431.1,545.5 L432.6,547.7 L434.8,549.9 L436.2,562.4 L438.0,559.5 L439.9,563.1 L441.4,567.5 L442.8,570.5 L444.3,574.9 L445.8,580.7 L447.7,582.9 L449.1,580.7 L450.6,586.6 L451.6,582.9 L453.1,591.0 L454.6,593.2 L456.0,591.7 L457.9,593.9 L459.7,594.6 L461.5,599.0 L462.6,589.5 L464.1,585.1 L465.6,582.2 L467.0,576.3 L468.5,571.9 L470.0,574.9 L471.7,578.5 L473.6,582.2 L475.5,585.1 L477.3,586.6 L479.5,588.0 L481.0,585.9 L482.4,589.5 L483.9,593.9 L485.4,591.0 L487.3,590.2 L489.0,589.5 L490.2,585.1 L491.7,590.2 L493.1,589.5 L494.6,593.9 L496.1,595.4 L497.1,588.0 L498.6,582.2 L500.0,577.8 L501.5,574.9 L503.0,567.5 L504.4,563.1 L505.9,567.5 L507.4,568.3 L508.8,566.8 L510.3,573.4 L511.8,577.8 L513.2,581.5 L514.7,583.6 L516.2,582.2 L517.6,579.2 L519.1,580.7 L520.1,574.9 L521.6,566.1 L523.0,561.7 L524.5,560.2 L526.0,559.5 L527.2,549.2 L528.6,543.3 L530.1,537.5 L531.5,531.6 L533.0,525.7 L534.5,522.8 L536.0,524.3 L537.4,527.9 L538.6,530.9 L539.1,541.1 L540.3,549.9 L541.6,558.0 L542.3,561.7 L543.8,566.1 L546.0,569.7 L547.9,567.5 L549.7,563.1 L551.4,560.2 L553.3,559.5 L554.8,558.0 L556.3,555.1 L557.7,560.2 L559.2,566.1 L561.1,569.0 L562.9,573.4 L565.1,576.3 L566.5,573.4 L568.0,569.0 L569.5,564.6 L570.9,563.9 L572.8,564.6 L574.6,563.1 L576.1,560.2 L577.5,552.9 L579.0,549.9 L580.8,548.5 L582.6,547.7 L584.6,546.3 L586.0,542.6 L586.9,535.3 L587.5,526.2 L588.5,511.6 L589.2,500.6 L590.0,499.1 L591.0,505.7 L592.2,510.1 L593.4,514.5 L594.8,513.8 L595.9,516.7 L597.3,521.9 L598.3,520.4 L599.2,511.6 L600.2,502.8 L601.7,496.9 L603.2,496.2 L604.6,495.2 L605.7,498.4 L606.9,501.3 L608.3,503.5 L609.8,505.0 L611.2,508.6 L612.4,501.3 L613.5,494.0 L614.9,492.5 L615.9,496.9 L617.1,505.7 L618.3,511.6 L619.8,516.0 L620.8,521.9 L621.8,529.2 L623.0,538.9 L624.4,544.1 L625.9,545.5 L627.1,551.4 L628.8,553.6 L630.3,555.1 L632.5,555.8 L634.4,558.0 L635.4,560.2 L636.9,554.3 L638.4,552.1 L639.8,553.6 L640.9,558.0 L642.3,561.7 L643.8,564.6 L645.3,563.1 L646.7,560.9 L648.6,561.7 L650.5,559.5 L652.0,564.6 L653.5,567.5 L654.9,570.5 L656.4,574.9 L657.9,570.5 L659.3,564.6 L660.8,559.5 L662.6,560.2 L664.8,560.2 L666.2,562.4 L667.7,566.1 L668.7,569.0 L670.2,561.7 L672.1,564.6 L674.0,563.9 L675.5,563.1 L677.2,564.6 L678.7,569.0 L680.2,568.3 L681.6,564.6 L683.4,566.8 L685.3,563.9 L687.2,563.1 L688.7,566.8 L690.4,567.5 L692.2,569.0 L693.6,564.6 L695.0,561.3 L697.0,560.0 L698.9,564.5 L700.9,567.2 L702.8,570.4 L704.8,574.3 L706.7,571.7 L708.7,575.6 L710.0,573.0 L711.3,569.1 L712.6,567.8 L713.9,562.6 L715.2,552.2 L715.9,549.6 L716.9,553.5 L717.8,558.7 L718.7,565.2 L719.8,571.7 L721.1,575.6 L722.4,576.9 L723.7,575.0 L725.2,576.9 L726.9,573.0 L728.2,571.7 L729.5,575.6 L731.2,579.5 L732.8,581.5 L734.1,580.9 L736.1,584.8 L738.0,590.0 L740.0,590.6 L741.3,590.0 L742.6,593.9 L744.5,599.1 L746.5,601.1 L747.8,603.0 L749.1,596.5 L750.4,593.9 L752.4,591.9 L755.0,590.6 L756.2,589.4 L757.6,591.6 L759.1,596.0 L760.6,598.9 L762.5,601.9 L764.0,598.2 L765.4,593.8 L766.9,592.3 L768.6,595.2 L770.4,596.7 L772.3,595.2 L774.2,599.6 L776.0,597.5 L778.2,596.0 L780.4,594.5 L782.6,595.2 L784.5,593.8 L786.2,590.9 L788.0,594.5 L789.9,596.7 L791.8,591.6 L793.6,593.8 L795.8,592.3 L797.7,591.6 L799.7,596.7 L801.6,596.0 L803.8,594.5 L806.0,593.8 L808.0,597.5 L809.7,596.7 L811.2,588.6 L812.4,587.9 L813.8,592.3 L815.6,590.1 L817.3,587.9 L819.2,585.7 L821.1,585.0 L822.6,579.9 L824.1,582.8 L825.8,579.1 L827.6,581.3 L829.5,583.5 L831.4,585.7 L833.2,586.5 L835.4,589.4 L837.6,587.2 L839.3,587.9 L840.8,582.8 L842.3,579.1 L844.2,577.6 L846.1,575.5 L847.5,573.3 L849.3,575.5 L851.1,574.0 L853.0,576.2 L854.9,579.9 L856.6,582.0 L858.4,583.5 L859.9,586.5 L861.8,584.2 L863.7,581.3 L865.7,579.9 L867.6,579.1 L869.1,582.8 L871.0,579.1 L872.8,583.5 L875.0,582.0 L877.2,581.3 L879.4,580.6 L880.8,574.0 L882.3,569.6 L884.2,568.1 L885.0,571.1 L886.8,568.9 L888.7,566.7 L890.6,565.9 L892.0,565.2 L893.5,571.1 L895.0,576.9 L896.4,575.5 L897.9,568.1 L899.7,563.0 L901.1,568.1 L902.6,573.3 L904.1,579.1 L905.5,572.5 L906.7,570.3 L907.7,576.9 L909.2,569.6 L910.7,563.0 L912.1,567.4 L913.6,571.8 L915.1,572.5 L916.5,567.4 L918.4,563.0 L919.9,566.7 L921.4,570.3 L922.8,565.9 L924.6,562.3 L926.1,565.2 L927.5,556.4 L928.7,546.1 L929.7,540.6 L931.2,546.1 L932.6,551.3 L934.1,552.7 L935.6,546.9 L937.0,545.4 L938.5,549.1 L940.4,552.0 L941.9,548.3 L943.4,543.9 L944.8,548.3 L946.3,553.5 L947.8,560.1 L949.2,555.7 L950.7,553.5 L952.2,557.1 L953.6,554.9 L955.1,552.7 L956.5,552.0 L958.0,554.9 L959.8,555.7 L961.2,558.6 L962.7,563.0 L964.2,565.2 L966.4,566.7 L968.3,571.8 L969.8,561.5 L971.2,556.4 L972.7,553.5 L974.1,549.8 L975.6,546.4 L977.4,545.8 L978.8,545.4 L980.6,545.4 L981.5,552.0 L982.5,558.6 L983.5,564.5 L984.7,571.1 L986.2,574.7 L987.6,565.2 L989.1,563.0 L990.9,563.0 L992.3,565.2 L993.8,568.9 L995.7,564.5 L998.6,563.0 L1000.1,567.4 L1001.6,574.7 L1003.0,571.1 L1004.5,566.7 L1006.7,564.5 L1008.9,562.3 L1010.8,561.5 L1011.8,566.7 L1013.3,573.3 L1014.8,574.7 L1017.0,574.0 L1019.2,575.5 L1020.6,576.9 L1022.1,569.6 L1023.1,563.7 L1024.3,560.8 L1025.5,567.4 L1026.5,575.5 L1028.0,579.1 L1030.2,578.4 L1032.4,579.1 L1034.6,577.6 L1036.8,575.5 L1038.2,578.4 L1039.7,582.0 L1041.2,584.2 L1042.6,579.9 L1043.7,573.3 L1044.5,570.3 L1045.6,575.5 L1047.0,578.4 L1048.5,576.9 L1050.0,577.6 L1051.4,579.1 L1052.9,572.5 L1054.3,568.9 L1055.8,574.7 L1057.3,579.9 L1058.8,581.3 L1061.0,580.6 L1063.2,578.4 L1065.1,578.4 L1066.7,585.7 L1068.6,586.5 L1070.4,585.7 L1071.8,586.5 L1073.3,584.2 L1074.5,582.8 L1076.0,586.5 L1077.4,590.1 L1079.2,587.9 L1080.9,587.2 L1082.4,584.2 L1083.6,582.0 L1085.0,583.5 L1086.5,585.7 L1087.7,586.5 L1088.7,582.0 L1090.2,578.4 L1091.6,574.7 L1093.1,571.8 L1094.6,569.6 L1095.6,565.2 L1096.5,559.3 L1097.5,553.5 L1098.5,550.5 L1099.7,554.2 L1101.2,557.1 L1102.6,556.4 L1104.1,554.2 L1105.6,552.0 L1107.0,552.7" fill="none" stroke="#f2ad3a" stroke-width="1.15" stroke-linejoin="round"/>
</g>
<g fill="none" stroke="#e2e2e2" stroke-width="1">
<path d="M17.5,629 V30.5 H1206.5 V636.5 H64"/>
<path d="M1139.5,30.5 V617" stroke="#e6e6e6"/>
<path d="M17.5,282.5 H1206.5"/>
<path d="M17.5,617 H1206.5" stroke="#e4e4e4"/>
<path d="M73.2,617 V636.5"/>
<path d="M178.5,617 V636.5"/>
<path d="M282.3,617 V636.5"/>
<path d="M388.4,617 V636.5"/>
<path d="M496.4,617 V636.5"/>
<path d="M603.5,617 V636.5"/>
<path d="M705.0,617 V636.5"/>
<path d="M809.0,617 V636.5"/>
<path d="M916.7,617 V636.5"/>
<path d="M1024.2,617 V636.5"/>
<path d="M1127.2,617 V636.5"/>
<path d="M1193.5,282.5 V295 H1206.5"/>
<path d="M1206.5,322 H1201.5 V336.5 H1206.5"/>
</g>
<text x="75.0" y="631.6" font-size="14" fill="#3c3c3c">Oct</text>
<text x="180.3" y="631.6" font-size="14" fill="#3c3c3c">2024</text>
<text x="284.1" y="631.6" font-size="14" fill="#3c3c3c">Apr</text>
<text x="390.2" y="631.6" font-size="14" fill="#3c3c3c">Jul</text>
<text x="498.2" y="631.6" font-size="14" fill="#3c3c3c">Oct</text>
<text x="605.3" y="631.6" font-size="14" fill="#3c3c3c">2025</text>
<text x="706.8" y="631.6" font-size="14" fill="#3c3c3c">Apr</text>
<text x="810.8" y="631.6" font-size="14" fill="#3c3c3c">Jul</text>
<text x="918.5" y="631.6" font-size="14" fill="#3c3c3c">Oct</text>
<text x="1026.0" y="631.6" font-size="14" fill="#3c3c3c">2026</text>
<text x="1129.0" y="631.6" font-size="14" fill="#3c3c3c">A</text>
<g clip-path="url(#cpTop)" font-size="13.6" fill="#3c3c3c">
<path d="M1138.8,28.8 H1142.8" stroke="#777" stroke-width="1"/>
<text x="1143.3" y="33.6" textLength="51.2" lengthAdjust="spacingAndGlyphs">7500.00</text>
<path d="M1138.8,44.3 H1142.8" stroke="#777" stroke-width="1"/>
<text x="1143.3" y="49.1" textLength="51.2" lengthAdjust="spacingAndGlyphs">7200.00</text>
<path d="M1138.8,60.4 H1142.8" stroke="#777" stroke-width="1"/>
<text x="1143.3" y="65.2" textLength="51.2" lengthAdjust="spacingAndGlyphs">6900.00</text>
<path d="M1138.8,77.3 H1142.8" stroke="#777" stroke-width="1"/>
<text x="1143.3" y="82.1" textLength="51.2" lengthAdjust="spacingAndGlyphs">6600.00</text>
<path d="M1138.8,95.0 H1142.8" stroke="#777" stroke-width="1"/>
<text x="1143.3" y="99.8" textLength="51.2" lengthAdjust="spacingAndGlyphs">6300.00</text>
<path d="M1138.8,113.5 H1142.8" stroke="#777" stroke-width="1"/>
<text x="1143.3" y="118.3" textLength="51.2" lengthAdjust="spacingAndGlyphs">6000.00</text>
<path d="M1138.8,132.9 H1142.8" stroke="#777" stroke-width="1"/>
<text x="1143.3" y="137.7" textLength="51.2" lengthAdjust="spacingAndGlyphs">5700.00</text>
<path d="M1138.8,153.4 H1142.8" stroke="#777" stroke-width="1"/>
<text x="1143.3" y="158.2" textLength="51.2" lengthAdjust="spacingAndGlyphs">5400.00</text>
<path d="M1138.8,175.1 H1142.8" stroke="#777" stroke-width="1"/>
<text x="1143.3" y="179.9" textLength="51.2" lengthAdjust="spacingAndGlyphs">5100.00</text>
<path d="M1138.8,190.3 H1142.8" stroke="#777" stroke-width="1"/>
<text x="1143.3" y="195.1" textLength="51.2" lengthAdjust="spacingAndGlyphs">4900.00</text>
<path d="M1138.8,206.1 H1142.8" stroke="#777" stroke-width="1"/>
<text x="1143.3" y="210.9" textLength="51.2" lengthAdjust="spacingAndGlyphs">4700.00</text>
<path d="M1138.8,222.6 H1142.8" stroke="#777" stroke-width="1"/>
<text x="1143.3" y="227.4" textLength="51.2" lengthAdjust="spacingAndGlyphs">4500.00</text>
<path d="M1138.8,239.9 H1142.8" stroke="#777" stroke-width="1"/>
<text x="1143.3" y="244.7" textLength="51.2" lengthAdjust="spacingAndGlyphs">4300.00</text>
<path d="M1138.8,257.9 H1142.8" stroke="#777" stroke-width="1"/>
<text x="1143.3" y="262.7" textLength="51.2" lengthAdjust="spacingAndGlyphs">4100.00</text>
<path d="M1138.8,276.9 H1142.8" stroke="#777" stroke-width="1"/>
<text x="1143.3" y="281.7" textLength="51.2" lengthAdjust="spacingAndGlyphs">3900.00</text>
</g>
<g clip-path="url(#cpLow)" font-size="13.6" fill="#3c3c3c">
<path d="M1139.6,615.7 H1141.4" stroke="#777" stroke-width="1"/>
<text x="1143.3" y="620.3" textLength="19.6" lengthAdjust="spacingAndGlyphs">0.0</text>
<path d="M1139.6,583.2 H1141.4" stroke="#777" stroke-width="1"/>
<text x="1143.3" y="587.8" textLength="27.2" lengthAdjust="spacingAndGlyphs">10.0</text>
<path d="M1139.6,550.7 H1141.4" stroke="#777" stroke-width="1"/>
<text x="1143.3" y="555.3" textLength="27.2" lengthAdjust="spacingAndGlyphs">20.0</text>
<path d="M1139.6,518.2 H1141.4" stroke="#777" stroke-width="1"/>
<text x="1143.3" y="522.8" textLength="27.2" lengthAdjust="spacingAndGlyphs">30.0</text>
<path d="M1139.6,485.7 H1141.4" stroke="#777" stroke-width="1"/>
<text x="1143.3" y="490.3" textLength="27.2" lengthAdjust="spacingAndGlyphs">40.0</text>
<path d="M1139.6,453.2 H1141.4" stroke="#777" stroke-width="1"/>
<text x="1143.3" y="457.8" textLength="27.2" lengthAdjust="spacingAndGlyphs">50.0</text>
<path d="M1139.6,420.7 H1141.4" stroke="#777" stroke-width="1"/>
<text x="1143.3" y="425.3" textLength="27.2" lengthAdjust="spacingAndGlyphs">60.0</text>
<path d="M1139.6,388.2 H1141.4" stroke="#777" stroke-width="1"/>
<text x="1143.3" y="392.8" textLength="27.2" lengthAdjust="spacingAndGlyphs">70.0</text>
<path d="M1139.6,355.7 H1141.4" stroke="#777" stroke-width="1"/>
<text x="1143.3" y="360.3" textLength="27.2" lengthAdjust="spacingAndGlyphs">80.0</text>
<path d="M1139.6,323.2 H1141.4" stroke="#777" stroke-width="1"/>
<text x="1143.3" y="327.8" textLength="27.2" lengthAdjust="spacingAndGlyphs">90.0</text>
<path d="M1139.6,290.7 H1141.4" stroke="#777" stroke-width="1"/>
<text x="1143.3" y="295.3" textLength="35.6" lengthAdjust="spacingAndGlyphs">100.0</text>
</g>
<path d="M1138.8,75.5 H1142" stroke="#777" stroke-width="1"/>
<rect x="1141.7" y="66.5" width="59.7" height="18.1" fill="#000"/>
<text x="1144.2" y="80.3" font-size="13.6" fill="#fff" textLength="55" lengthAdjust="spacingAndGlyphs">6,632.19</text>
<path d="M1138.8,455.3 H1142" stroke="#777" stroke-width="1"/>
<rect x="1141.7" y="445.7" width="32.9" height="19.2" fill="#e2332a"/>
<text x="1144.2" y="460.1" font-size="13.6" fill="#fff" textLength="27" lengthAdjust="spacingAndGlyphs">49.3</text>
<path d="M1138.8,523.5 H1142" stroke="#777" stroke-width="1"/>
<rect x="1141.7" y="514.3" width="32.9" height="18.5" fill="#2e7d22"/>
<text x="1144.2" y="528.3" font-size="13.6" fill="#fff" textLength="27" lengthAdjust="spacingAndGlyphs">28.3</text>
<path d="M1138.8,552.1 H1142" stroke="#777" stroke-width="1"/>
<rect x="1141.7" y="542.8" width="32.9" height="18.6" fill="#f0a732"/>
<text x="1144.2" y="556.9" font-size="13.6" fill="#fff" textLength="27" lengthAdjust="spacingAndGlyphs">19.6</text>
<g fill="#6b6b6b"><rect x="1195.9" y="288" width="8.4" height="4.8" rx="0.6"/><path d="M1198.1,288.4 V286.6 A2,2 0 0 1 1202.1,286.6 V288.4" fill="none" stroke="#6b6b6b" stroke-width="1.4"/><rect x="1199.6" y="289.6" width="1" height="1.6" fill="#fff"/></g>
<path d="M1205.3,327.2 L1202.8,329.4 L1205.3,331.6" fill="none" stroke="#777" stroke-width="1"/>
<path d="M17.0,222.9 L17.6,224.1 L19.8,229.3 L21.7,233.0 L23.0,234.2 L25.0,232.6 L26.9,231.3 L28.6,229.1 L29.8,231.3 L31.5,233.0 L33.2,230.6 L34.8,226.5 L36.1,223.1 L37.6,221.8 L40.0,221.8 L41.9,223.1 L43.6,225.4 L45.5,227.1 L47.2,226.5 L48.7,224.4 L50.4,224.8 L51.7,226.1 L53.3,223.9 L55.0,223.1 L55.9,225.4 L57.6,227.0 L59.5,227.4 L60.8,230.6 L62.2,235.2 L63.2,237.5 L64.8,237.5 L66.3,237.8 L67.4,241.1 L68.7,243.0 L70.2,241.3 L71.9,240.4 L73.9,241.1 L75.2,243.0 L76.2,245.6 L77.8,244.7 L79.8,243.0 L81.4,239.1 L83.3,235.8 L85.0,233.9 L86.9,234.3 L88.6,236.8 L90.2,235.8 L91.5,234.2 L93.2,234.3 L94.7,237.2 L96.3,241.1 L98.0,245.0 L99.3,247.2 L101.3,245.4 L102.8,248.9 L104.5,253.4 L105.8,256.1 L107.1,255.8 L108.7,252.1 L110.7,248.9 L112.3,243.7 L113.7,237.8 L115.0,235.2 L116.9,233.9 L118.9,233.2 L120.6,233.5 L121.9,235.2 L123.2,231.3 L124.7,229.3 L126.0,224.8 L127.3,222.8 L129.3,222.2 L131.3,221.2 L133.2,219.6 L135.2,218.9 L137.8,217.9 L140.4,218.2 L143.0,218.2 L144.9,216.9 L146.6,215.2 L148.5,216.3 L150.2,217.6 L152.1,218.2 L154.1,216.0 L156.0,213.9 L158.4,211.7 L159.9,206.5 L162.0,205.0 L164.6,203.7 L166.5,201.1 L167.8,202.0 L168.9,205.6 L170.4,203.7 L172.4,201.4 L174.3,200.1 L176.3,199.5 L178.3,200.1 L179.8,201.7 L181.5,205.0 L183.2,206.9 L185.0,206.9 L186.1,204.3 L187.1,201.7 L189.3,200.4 L191.6,199.4 L193.9,199.8 L195.9,201.1 L197.5,202.4 L198.9,199.1 L200.2,195.8 L201.7,194.1 L203.7,193.2 L205.6,192.6 L207.6,191.0 L209.5,190.0 L211.5,188.7 L212.8,190.0 L214.1,193.6 L215.4,190.6 L216.7,187.4 L218.7,186.7 L220.2,186.7 L221.9,184.1 L223.6,182.5 L225.2,181.5 L226.8,180.8 L228.1,182.8 L229.4,185.8 L231.1,182.8 L232.4,181.2 L234.1,181.5 L235.6,183.2 L237.2,183.7 L238.5,179.5 L239.8,175.9 L241.5,176.3 L243.4,176.9 L245.4,176.9 L247.1,176.3 L248.7,173.7 L250.0,172.8 L251.3,175.0 L252.8,176.3 L254.5,175.0 L255.8,171.7 L257.1,172.0 L258.4,173.7 L260.1,172.4 L261.7,169.8 L263.3,170.4 L265.0,172.8 L266.6,173.7 L268.2,171.7 L270.2,167.8 L271.9,165.2 L273.7,164.9 L275.4,165.9 L277.3,166.9 L278.9,165.5 L280.6,163.9 L282.6,164.6 L284.5,166.2 L286.2,167.2 L287.8,171.1 L289.3,168.5 L291.0,167.2 L292.7,167.5 L294.3,169.1 L296.2,168.9 L297.5,171.1 L298.9,175.0 L300.5,178.0 L302.8,180.2 L304.7,182.8 L306.7,184.8 L308.0,182.8 L309.3,178.9 L310.0,178.2 L312.0,178.0 L313.7,178.2 L315.2,175.0 L316.5,174.3 L317.8,176.9 L319.4,180.6 L321.1,180.8 L322.4,176.9 L323.7,173.0 L325.0,170.1 L326.9,168.8 L328.9,168.4 L330.9,166.8 L332.8,166.2 L334.8,165.2 L336.1,162.6 L337.4,160.2 L339.3,160.2 L341.3,159.7 L343.2,158.9 L344.9,159.7 L346.5,161.5 L348.1,161.3 L349.8,160.0 L351.5,161.3 L353.0,163.9 L354.6,164.1 L356.3,162.3 L358.5,161.3 L360.2,157.4 L361.5,156.3 L363.2,157.4 L364.8,157.1 L366.7,155.8 L368.4,153.2 L370.0,151.5 L371.9,151.2 L373.2,150.2 L374.5,148.0 L376.5,147.6 L378.4,148.6 L380.4,149.8 L382.4,149.3 L383.7,148.0 L385.4,147.6 L386.9,148.6 L388.5,148.9 L390.2,147.2 L392.1,145.0 L394.1,142.0 L396.0,141.1 L398.0,140.2 L399.3,138.1 L400.9,139.8 L402.6,139.1 L404.1,137.2 L405.8,135.5 L407.1,137.2 L408.4,141.1 L410.1,144.1 L411.4,145.4 L412.7,142.4 L414.0,142.0 L415.3,144.3 L416.3,150.2 L417.6,153.2 L419.3,152.2 L420.6,149.3 L422.1,148.9 L423.4,149.5 L424.7,145.6 L425.8,147.6 L427.3,154.1 L428.9,161.9 L429.9,167.8 L431.3,165.8 L432.6,167.1 L433.9,166.5 L434.9,160.6 L436.5,158.0 L438.4,156.1 L439.7,152.2 L441.7,147.6 L443.6,143.0 L445.6,139.8 L447.5,138.9 L449.5,138.5 L451.5,140.7 L452.8,138.5 L454.5,137.5 L456.0,138.1 L458.0,139.1 L459.9,139.8 L462.0,137.8 L463.3,143.7 L465.2,145.0 L467.2,146.3 L468.5,151.9 L470.4,148.9 L472.4,145.0 L474.3,141.1 L476.3,138.4 L478.9,137.1 L481.5,138.1 L482.8,133.9 L484.1,132.3 L486.1,131.9 L488.0,131.3 L490.6,130.6 L493.2,130.0 L495.2,129.6 L497.2,132.3 L499.1,132.8 L500.7,132.3 L501.7,130.2 L503.7,132.8 L505.0,131.3 L506.3,128.0 L508.2,126.7 L510.2,125.4 L511.9,122.8 L513.7,123.7 L516.1,123.2 L518.0,122.4 L520.0,122.2 L521.9,122.8 L523.9,126.1 L525.8,126.1 L527.8,125.0 L529.8,124.5 L531.4,124.8 L532.8,127.4 L533.7,131.3 L535.6,131.5 L538.0,131.0 L539.3,127.4 L540.6,121.5 L541.9,116.3 L543.4,114.1 L545.4,113.4 L547.6,113.7 L550.0,115.0 L551.3,117.6 L552.8,121.1 L554.5,119.8 L557.1,118.5 L559.1,116.9 L561.4,115.0 L563.7,112.8 L565.9,112.8 L568.0,111.5 L570.2,110.2 L572.4,108.5 L574.7,107.8 L576.7,108.5 L578.6,110.7 L580.6,108.9 L582.6,108.5 L584.5,109.4 L585.8,108.5 L587.8,108.9 L589.1,114.3 L590.1,120.8 L591.7,121.5 L593.0,118.9 L594.9,113.7 L596.6,111.1 L598.2,111.5 L599.8,114.3 L601.5,118.2 L603.2,120.6 L605.0,120.8 L606.7,117.6 L608.0,115.4 L609.7,116.9 L610.0,117.8 L611.6,119.8 L612.9,123.4 L614.6,124.3 L616.5,122.6 L617.8,118.5 L619.8,116.9 L621.7,113.3 L623.7,109.1 L625.6,106.5 L627.6,106.1 L628.9,108.0 L629.8,111.7 L631.5,110.4 L633.5,109.6 L635.4,109.6 L637.1,111.7 L638.7,113.3 L640.6,110.6 L642.6,108.7 L644.2,109.1 L645.5,111.3 L647.2,109.6 L649.1,109.1 L650.7,109.3 L652.0,106.5 L654.3,105.4 L656.3,104.4 L658.2,104.8 L659.5,108.0 L660.8,112.6 L662.4,114.6 L664.1,115.9 L665.8,117.2 L666.7,121.1 L667.6,118.2 L668.9,117.2 L670.0,121.1 L671.3,124.3 L672.3,126.3 L673.9,124.3 L675.2,127.6 L676.2,129.2 L677.5,129.2 L678.4,133.5 L679.8,139.3 L681.4,140.6 L683.0,141.9 L684.1,144.3 L685.4,140.0 L686.7,136.1 L688.2,136.5 L689.5,137.4 L691.5,135.4 L693.2,135.2 L694.7,133.5 L696.0,129.2 L697.6,128.6 L699.3,131.5 L701.0,133.5 L702.3,138.7 L703.2,140.4 L705.2,138.7 L707.1,136.1 L708.0,140.0 L709.1,152.4 L710.1,165.4 L711.0,176.5 L713.0,179.7 L714.3,183.7 L715.3,168.0 L715.9,150.4 L716.9,157.6 L718.0,162.1 L719.3,156.3 L720.8,153.4 L722.8,153.9 L724.1,158.2 L725.4,162.1 L726.7,163.4 L727.7,170.0 L728.9,166.1 L730.6,156.3 L732.6,148.5 L733.9,145.8 L735.8,144.3 L737.8,143.0 L740.1,140.6 L741.7,136.7 L743.0,134.5 L744.9,137.0 L746.6,138.7 L748.5,137.4 L750.2,136.1 L751.7,134.8 L752.8,127.6 L754.1,122.4 L756.0,120.4 L758.0,119.1 L759.9,116.1 L762.0,116.1 L763.3,118.0 L765.0,122.6 L766.8,124.5 L768.5,125.2 L769.8,120.0 L771.7,120.0 L773.7,119.3 L775.6,118.3 L777.6,116.1 L779.3,115.4 L780.9,116.7 L782.8,114.8 L784.8,112.8 L786.7,111.5 L788.7,110.8 L790.2,111.2 L791.6,113.8 L793.2,112.1 L794.9,113.8 L796.5,114.8 L798.5,115.1 L799.8,112.1 L801.1,108.9 L803.0,107.3 L805.0,105.0 L806.9,102.1 L808.9,100.8 L810.8,100.4 L812.2,98.2 L813.2,96.9 L814.8,98.5 L816.3,99.8 L818.0,97.8 L819.7,96.5 L821.5,96.5 L823.9,97.2 L826.2,97.8 L828.1,95.8 L830.1,94.5 L832.4,94.5 L834.3,93.5 L836.3,91.3 L838.2,90.0 L840.2,89.6 L842.1,90.0 L844.1,90.9 L845.4,92.6 L846.7,97.8 L848.0,96.5 L849.3,94.5 L851.3,93.5 L853.2,92.2 L855.2,90.9 L857.1,90.0 L858.4,87.4 L860.1,85.2 L862.0,84.5 L864.0,85.2 L865.9,86.5 L867.6,88.3 L869.3,89.6 L870.8,90.0 L872.1,86.5 L874.1,85.2 L876.0,84.8 L878.0,83.5 L879.3,83.2 L880.6,84.8 L882.3,87.4 L883.9,86.1 L885.4,83.9 L887.1,83.2 L889.1,83.5 L891.0,82.5 L892.7,80.9 L894.3,78.6 L896.2,77.3 L898.2,76.7 L900.5,76.6 L902.1,76.0 L903.7,73.9 L905.4,72.1 L907.1,73.0 L908.9,74.7 L910.0,75.2 L912.0,76.1 L913.9,74.5 L916.3,72.6 L918.5,70.9 L921.1,70.4 L923.7,69.6 L925.6,69.3 L926.9,68.3 L928.3,70.0 L929.3,76.5 L930.2,79.5 L931.5,75.2 L933.5,74.3 L935.4,73.9 L937.1,74.8 L938.7,71.9 L940.2,69.3 L941.9,70.0 L943.9,70.6 L945.5,68.0 L947.2,64.1 L948.5,61.5 L950.4,60.5 L952.0,60.9 L953.7,63.5 L955.6,63.1 L957.2,64.1 L958.9,66.1 L960.6,67.0 L962.2,69.6 L963.5,68.0 L964.8,64.8 L966.3,63.2 L968.0,63.1 L969.3,65.4 L970.2,68.7 L971.9,70.6 L973.6,73.2 L975.2,75.6 L977.1,76.1 L978.4,79.8 L979.8,78.7 L981.1,73.9 L982.4,70.0 L984.1,66.7 L985.6,64.1 L987.2,63.5 L989.3,64.4 L991.1,63.5 L993.4,62.5 L995.4,62.2 L997.4,62.5 L999.3,63.1 L1000.6,60.9 L1001.9,60.5 L1003.2,62.8 L1004.9,64.4 L1006.7,65.7 L1008.0,68.0 L1009.3,69.3 L1010.7,67.4 L1012.3,64.1 L1014.3,61.2 L1016.3,59.2 L1018.2,58.6 L1020.2,59.6 L1022.1,60.9 L1023.7,62.5 L1025.4,62.8 L1027.1,60.9 L1028.6,58.9 L1030.2,58.6 L1031.9,59.2 L1033.6,56.9 L1035.2,56.0 L1036.7,56.3 L1038.4,57.6 L1040.0,58.6 L1041.6,57.6 L1042.9,58.6 L1043.7,63.1 L1044.5,65.5 L1045.5,63.5 L1046.5,61.1 L1048.1,59.6 L1050.2,58.2 L1051.8,56.6 L1053.4,55.8 L1055.1,55.8 L1056.3,56.6 L1057.5,57.6 L1058.9,56.6 L1060.2,57.0 L1061.3,59.0 L1062.6,61.9 L1063.8,64.7 L1064.8,65.3 L1065.7,63.1 L1066.5,59.4 L1067.3,57.6 L1068.5,57.1 L1070.1,57.4 L1071.4,58.2 L1072.2,59.8 L1073.0,62.7 L1074.2,64.3 L1075.8,63.7 L1077.1,62.7 L1077.6,61.7 L1078.9,62.3 L1079.9,61.5 L1081.1,60.7 L1081.9,61.9 L1083.2,63.1 L1084.4,61.9 L1085.2,59.4 L1086.3,58.5 L1087.4,58.8 L1088.5,59.8 L1089.7,60.9 L1090.9,61.2 L1092.1,62.3 L1092.9,64.3 L1093.9,63.7 L1095.0,62.7 L1096.0,63.1 L1097.0,65.5 L1098.0,68.0 L1099.0,67.7 L1100.1,66.4 L1101.2,65.9 L1102.5,66.6 L1103.9,68.0 L1104.7,70.4 L1105.3,72.9 L1106.1,74.1 L1106.9,74.9" fill="none" stroke="#000" stroke-width="1.7" stroke-linejoin="round" stroke-linecap="round"/>
<text x="183.2" y="93.2" font-size="34.5" font-weight="bold" fill="#000" stroke="#000" stroke-width="0.5" textLength="129" lengthAdjust="spacingAndGlyphs">S&amp;P 500</text>
<text x="35.6" y="316" font-size="14.5" font-weight="bold" fill="#2f8a2f" textLength="292.9" lengthAdjust="spacingAndGlyphs">Percentage of S&amp;P 500 Stocks Above Both</text>
<text x="33" y="336.6" font-size="14.5" font-weight="bold" fill="#2f8a2f" textLength="302.0" lengthAdjust="spacingAndGlyphs">Their 200-Day Average and 50-Day Average</text>
<text x="402" y="316" font-size="14.5" font-weight="bold" fill="#f0a531" textLength="356.0" lengthAdjust="spacingAndGlyphs">Percentage of S&amp;P 500 Stocks Above Their 200-Day</text>
<text x="437.9" y="336.6" font-size="14.5" font-weight="bold" fill="#f0a531" textLength="287.6" lengthAdjust="spacingAndGlyphs">Average But Below Their 50-Day Average</text>
<text x="806" y="315" font-size="14.5" font-weight="bold" fill="#d62b2b" textLength="295.5" lengthAdjust="spacingAndGlyphs">Percentage of S&amp;P 500 Stocks Below Their</text>
<text x="824.6" y="335.6" font-size="14.5" font-weight="bold" fill="#d62b2b" textLength="261.4" lengthAdjust="spacingAndGlyphs">200-Day Average and 50-Day Average</text>
<g id="logo">
<text x="1029" y="207.6" font-size="6.6" fill="#222" textLength="13.2" lengthAdjust="spacingAndGlyphs">The</text>
<g transform="translate(1020,195) scale(0.105865)">
<g fill="#4aab7b" fill-rule="evenodd">
<path d="M100,345 H140 L210,440 V345 H250 V508 H212 L140,412 V508 H100 Z"/>
<path d="M270,392 V440 C270,485 300,512 347,512 C394,512 424,485 424,440 V320 H386 V440 C386,462 372,474 347,474 C322,474 312,462 312,440 V392 Z"/>
<path d="M360,324 H450 L405,262 Z"/>
<path d="M455,345 H497 L540,420 L583,345 H625 V508 H585 V412 L552,470 H528 L495,412 V508 H455 Z"/>
<path d="M655,345 H745 C778,345 795,362 795,388 C795,405 787,417 773,423 C792,429 802,443 802,463 C802,492 782,508 748,508 H655 Z M696,378 V410 H738 C750,410 756,404 756,394 C756,384 750,378 738,378 Z M696,440 V475 H742 C755,475 761,468 761,457 C761,446 755,440 742,440 Z"/>
<path d="M825,345 H945 V381 H866 V408 H935 V442 H866 V472 H948 V508 H825 Z"/>
<path d="M970,345 H1050 C1090,345 1112,367 1112,402 C1112,428 1099,446 1078,454 L1117,508 H1070 L1036,460 H1011 V508 H970 Z M1011,381 V426 H1046 C1062,426 1070,417 1070,403 C1070,390 1062,381 1046,381 Z"/>
</g>
<g fill="#e0313f" fill-rule="evenodd">
<path d="M100,145 H175 C225,145 250,180 250,225 C250,270 225,305 175,305 H100 Z M142,182 V268 H172 C195,268 207,250 207,225 C207,200 195,182 172,182 Z"/>
<path d="M288,345 V215 C288,172 317,143 355,143 C393,143 423,172 423,215 V256 H328 V345 Z M328,222 C328,198 339,183 355,183 C371,183 383,198 383,222 Z"/>
<path d="M262,340 H354 L308,400 Z"/>
<path d="M460,145 H502 V305 H460 Z"/>
<path d="M537,145 H579 V268 H660 V305 H537 Z"/>
<path d="M640,145 H688 L716,200 L744,145 H792 L737,245 V305 H695 V245 Z"/>
</g>
</g>
<text x="1031" y="257.8" font-size="6.8" fill="#222" textLength="73.7" lengthAdjust="spacingAndGlyphs">with Grant Hawkridge</text>
</g>
<rect x="14" y="628.6" width="49.5" height="12" fill="#fff"/>
<rect x="16.1" y="628.8" width="10" height="10" rx="1.3" fill="#1d3f7d"/>
<circle cx="22.1" cy="634.8" r="3.1" fill="none" stroke="#fff" stroke-width="1.2"/><circle cx="22.6" cy="635.4" r="1.9" fill="#1d3f7d"/><rect x="22.2" y="635.2" width="4" height="3.7" fill="#1d3f7d"/>
<text x="27" y="636.6" font-size="8" font-weight="bold" fill="#1d3f7d" textLength="28" lengthAdjust="spacingAndGlyphs">Optuma</text>
</svg>
<div id="handle" style="position:absolute;left:0;top:652.3px;width:1224.8px;text-align:center;font-style:italic;font-size:23.85px;line-height:28px;color:#333;"><span style="text-decoration:underline;text-decoration-thickness:1.7px;text-underline-offset:2.4px;">@granthawkridge</span></div>
</body></html>
